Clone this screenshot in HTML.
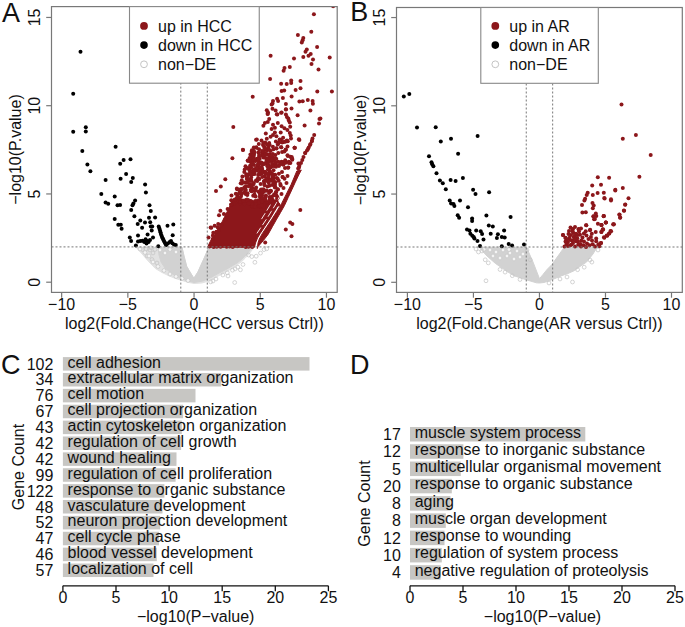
<!DOCTYPE html>
<html><head><meta charset="utf-8"><title>Figure</title>
<style>html,body{margin:0;padding:0;background:#fff;}svg{display:block;}</style></head>
<body><svg width="685" height="627" viewBox="0 0 685 627">
<rect x="0" y="0" width="685" height="627" fill="#fff"/>
<defs><clipPath id="ca"><rect x="51.5" y="6.6" width="285.7" height="285.8"/></clipPath><clipPath id="cb"><rect x="396.5" y="7.5" width="285.8" height="284.9"/></clipPath></defs>
<text transform="translate(1.9,21.9) scale(1,1.05)" font-family="Liberation Sans, sans-serif" font-size="27" fill="#111">A</text>
<g clip-path="url(#ca)">
<path d="M136.0,247.2 L182.0,247.2 L184.0,256.0 L186.7,266.3 L190.0,272.0 L193.9,278.3 L197.9,271.9 L201.5,264.0 L205.1,256.0 L207.5,250.4 L208.0,247.2 L254.0,247.2 L251.0,251.5 L248.3,254.9 L245.0,258.3 L241.3,261.9 L237.0,265.0 L232.5,268.0 L228.0,270.8 L223.8,273.3 L219.0,275.6 L215.0,277.7 L209.9,280.7 L201.9,283.0 L194.0,283.5 L188.0,282.3 L181.0,280.2 L175.0,278.3 L168.8,275.8 L162.0,272.5 L155.5,268.6 L149.0,262.0 L143.0,255.0 L139.0,250.5 Z" fill="#e2e2e2" stroke="#e2e2e2" stroke-width="1.0" stroke-linejoin="round"/>
<path d="M158.0,247.2 L182.0,247.2 L184.0,256.0 L186.7,266.3 L190.0,272.0 L193.9,278.3 L197.9,271.9 L201.5,264.0 L205.1,256.0 L207.5,250.4 L208.0,247.2 L252.0,247.2 L249.0,251.5 L246.0,255.0 L242.0,259.0 L237.0,263.0 L232.0,266.0 L226.0,269.5 L219.0,273.0 L212.0,277.0 L203.0,281.0 L194.0,282.5 L186.0,280.5 L178.0,277.0 L171.0,273.0 L165.0,268.0 L161.0,262.0 L159.0,255.0 Z" fill="#d2d2d2" stroke="#d2d2d2" stroke-width="1.0" stroke-linejoin="round"/>
<circle cx="142.5" cy="249.5" r="1.9" fill="none" stroke="#c6c6c6" stroke-width="0.75"/>
<circle cx="146.0" cy="249.0" r="1.9" fill="none" stroke="#c6c6c6" stroke-width="0.75"/>
<circle cx="150.0" cy="250.0" r="1.9" fill="none" stroke="#c6c6c6" stroke-width="0.75"/>
<circle cx="153.0" cy="253.0" r="1.9" fill="none" stroke="#c6c6c6" stroke-width="0.75"/>
<circle cx="151.0" cy="247.8" r="1.9" fill="none" stroke="#c6c6c6" stroke-width="0.75"/>
<circle cx="155.0" cy="249.5" r="1.9" fill="none" stroke="#c6c6c6" stroke-width="0.75"/>
<circle cx="147.0" cy="256.0" r="1.9" fill="none" stroke="#c6c6c6" stroke-width="0.75"/>
<circle cx="152.0" cy="259.5" r="1.9" fill="none" stroke="#c6c6c6" stroke-width="0.75"/>
<circle cx="157.0" cy="263.0" r="1.9" fill="none" stroke="#c6c6c6" stroke-width="0.75"/>
<circle cx="210.7" cy="281.9" r="1.9" fill="none" stroke="#c6c6c6" stroke-width="0.75"/>
<circle cx="234.7" cy="282.5" r="1.9" fill="none" stroke="#c6c6c6" stroke-width="0.75"/>
<circle cx="254.9" cy="262.3" r="1.9" fill="none" stroke="#c6c6c6" stroke-width="0.75"/>
<circle cx="243.0" cy="264.5" r="1.9" fill="none" stroke="#c6c6c6" stroke-width="0.75"/>
<circle cx="240.4" cy="269.8" r="1.9" fill="none" stroke="#c6c6c6" stroke-width="0.75"/>
<circle cx="237.8" cy="267.2" r="1.9" fill="none" stroke="#c6c6c6" stroke-width="0.75"/>
<circle cx="235.1" cy="268.9" r="1.9" fill="none" stroke="#c6c6c6" stroke-width="0.75"/>
<circle cx="232.5" cy="270.2" r="1.9" fill="none" stroke="#c6c6c6" stroke-width="0.75"/>
<circle cx="227.3" cy="272.8" r="1.9" fill="none" stroke="#c6c6c6" stroke-width="0.75"/>
<circle cx="222.9" cy="275.0" r="1.9" fill="none" stroke="#c6c6c6" stroke-width="0.75"/>
<circle cx="251.8" cy="256.6" r="1.9" fill="none" stroke="#c6c6c6" stroke-width="0.75"/>
<circle cx="256.2" cy="256.2" r="1.9" fill="none" stroke="#c6c6c6" stroke-width="0.75"/>
<circle cx="260.5" cy="253.1" r="1.9" fill="none" stroke="#c6c6c6" stroke-width="0.75"/>
<circle cx="264.0" cy="249.6" r="1.9" fill="none" stroke="#c6c6c6" stroke-width="0.75"/>
<circle cx="266.7" cy="248.8" r="1.9" fill="none" stroke="#c6c6c6" stroke-width="0.75"/>
<circle cx="248.5" cy="255.0" r="1.9" fill="none" stroke="#c6c6c6" stroke-width="0.75"/>
<circle cx="216.0" cy="279.0" r="1.9" fill="none" stroke="#c6c6c6" stroke-width="0.75"/>
<circle cx="213.0" cy="281.0" r="1.9" fill="none" stroke="#c6c6c6" stroke-width="0.75"/>
<circle cx="228.0" cy="276.0" r="1.9" fill="none" stroke="#c6c6c6" stroke-width="0.75"/>
<circle cx="140.0" cy="249.0" r="1.9" fill="#f4f4f4" stroke="#c8c8c8" stroke-width="0.8"/>
<circle cx="145.0" cy="252.5" r="1.9" fill="#f4f4f4" stroke="#c8c8c8" stroke-width="0.8"/>
<circle cx="149.0" cy="256.0" r="1.9" fill="#f4f4f4" stroke="#c8c8c8" stroke-width="0.8"/>
<circle cx="153.0" cy="262.0" r="1.9" fill="#f4f4f4" stroke="#c8c8c8" stroke-width="0.8"/>
<circle cx="158.0" cy="266.5" r="1.9" fill="#f4f4f4" stroke="#c8c8c8" stroke-width="0.8"/>
<circle cx="164.0" cy="270.5" r="1.9" fill="#f4f4f4" stroke="#c8c8c8" stroke-width="0.8"/>
<circle cx="170.0" cy="274.0" r="1.9" fill="#f4f4f4" stroke="#c8c8c8" stroke-width="0.8"/>
<circle cx="176.0" cy="276.5" r="1.9" fill="#f4f4f4" stroke="#c8c8c8" stroke-width="0.8"/>
<circle cx="182.0" cy="278.5" r="1.9" fill="#f4f4f4" stroke="#c8c8c8" stroke-width="0.8"/>
<circle cx="188.0" cy="280.5" r="1.9" fill="#f4f4f4" stroke="#c8c8c8" stroke-width="0.8"/>
<circle cx="160.0" cy="250.0" r="1.9" fill="#f4f4f4" stroke="#c8c8c8" stroke-width="0.8"/>
<circle cx="165.0" cy="253.0" r="1.9" fill="#f4f4f4" stroke="#c8c8c8" stroke-width="0.8"/>
<circle cx="170.0" cy="249.5" r="1.9" fill="#f4f4f4" stroke="#c8c8c8" stroke-width="0.8"/>
<circle cx="176.0" cy="252.0" r="1.9" fill="#f4f4f4" stroke="#c8c8c8" stroke-width="0.8"/>
<path d="M208.0,247.3 L209.0,244.0 L211.0,240.0 L214.0,236.0 L217.0,231.0 L220.0,226.0 L222.0,222.0 L225.0,216.0 L228.0,210.0 L231.0,203.6 L233.0,199.0 L240.0,201.0 L247.0,198.0 L254.0,201.0 L261.0,199.0 L268.0,202.0 L274.0,200.0 L277.5,200.0 L279.0,203.7 L274.4,211.4 L269.8,219.1 L265.0,226.2 L260.2,233.4 L257.5,238.0 L255.5,243.0 L254.5,247.3 Z" fill="#8c171b" stroke="#8c171b" stroke-width="1.0" stroke-linejoin="round"/>
<circle cx="253.5" cy="150.7" r="2" fill="#8c171b"/>
<circle cx="241.6" cy="189.0" r="2" fill="#8c171b"/>
<circle cx="267.7" cy="163.2" r="2" fill="#8c171b"/>
<circle cx="262.8" cy="192.2" r="2" fill="#8c171b"/>
<circle cx="256.0" cy="180.5" r="2" fill="#8c171b"/>
<circle cx="253.4" cy="206.8" r="2" fill="#8c171b"/>
<circle cx="250.9" cy="203.6" r="2" fill="#8c171b"/>
<circle cx="252.5" cy="162.0" r="2" fill="#8c171b"/>
<circle cx="252.5" cy="206.4" r="2" fill="#8c171b"/>
<circle cx="262.5" cy="199.5" r="2" fill="#8c171b"/>
<circle cx="265.9" cy="195.4" r="2" fill="#8c171b"/>
<circle cx="245.8" cy="186.5" r="2" fill="#8c171b"/>
<circle cx="254.3" cy="169.2" r="2" fill="#8c171b"/>
<circle cx="266.9" cy="205.7" r="2" fill="#8c171b"/>
<circle cx="249.8" cy="167.5" r="2" fill="#8c171b"/>
<circle cx="264.1" cy="181.1" r="2" fill="#8c171b"/>
<circle cx="271.9" cy="161.0" r="2" fill="#8c171b"/>
<circle cx="239.7" cy="189.6" r="2" fill="#8c171b"/>
<circle cx="262.6" cy="201.9" r="2" fill="#8c171b"/>
<circle cx="268.4" cy="175.3" r="2" fill="#8c171b"/>
<circle cx="253.5" cy="156.8" r="2" fill="#8c171b"/>
<circle cx="270.6" cy="190.7" r="2" fill="#8c171b"/>
<circle cx="268.3" cy="178.4" r="2" fill="#8c171b"/>
<circle cx="262.9" cy="171.2" r="2" fill="#8c171b"/>
<circle cx="253.1" cy="152.2" r="2" fill="#8c171b"/>
<circle cx="245.5" cy="193.7" r="2" fill="#8c171b"/>
<circle cx="257.2" cy="206.1" r="2" fill="#8c171b"/>
<circle cx="252.1" cy="171.4" r="2" fill="#8c171b"/>
<circle cx="262.0" cy="152.8" r="2" fill="#8c171b"/>
<circle cx="269.1" cy="161.0" r="2" fill="#8c171b"/>
<circle cx="270.8" cy="179.9" r="2" fill="#8c171b"/>
<circle cx="265.7" cy="179.9" r="2" fill="#8c171b"/>
<circle cx="254.7" cy="190.9" r="2" fill="#8c171b"/>
<circle cx="264.7" cy="203.7" r="2" fill="#8c171b"/>
<circle cx="269.5" cy="159.5" r="2" fill="#8c171b"/>
<circle cx="246.7" cy="174.2" r="2" fill="#8c171b"/>
<circle cx="248.5" cy="180.9" r="2" fill="#8c171b"/>
<circle cx="269.7" cy="191.9" r="2" fill="#8c171b"/>
<circle cx="272.1" cy="185.0" r="2" fill="#8c171b"/>
<circle cx="269.1" cy="161.5" r="2" fill="#8c171b"/>
<circle cx="269.5" cy="172.9" r="2" fill="#8c171b"/>
<circle cx="252.6" cy="161.3" r="2" fill="#8c171b"/>
<circle cx="250.8" cy="189.8" r="2" fill="#8c171b"/>
<circle cx="250.5" cy="165.8" r="2" fill="#8c171b"/>
<circle cx="251.2" cy="177.5" r="2" fill="#8c171b"/>
<circle cx="251.9" cy="150.3" r="2" fill="#8c171b"/>
<circle cx="247.5" cy="193.2" r="2" fill="#8c171b"/>
<circle cx="253.9" cy="183.0" r="2" fill="#8c171b"/>
<circle cx="251.3" cy="180.8" r="2" fill="#8c171b"/>
<circle cx="246.0" cy="182.7" r="2" fill="#8c171b"/>
<circle cx="273.7" cy="180.9" r="2" fill="#8c171b"/>
<circle cx="270.7" cy="179.6" r="2" fill="#8c171b"/>
<circle cx="264.9" cy="172.1" r="2" fill="#8c171b"/>
<circle cx="266.3" cy="163.8" r="2" fill="#8c171b"/>
<circle cx="264.5" cy="204.4" r="2" fill="#8c171b"/>
<circle cx="263.9" cy="206.0" r="2" fill="#8c171b"/>
<circle cx="249.6" cy="158.0" r="2" fill="#8c171b"/>
<circle cx="258.3" cy="152.6" r="2" fill="#8c171b"/>
<circle cx="246.4" cy="175.1" r="2" fill="#8c171b"/>
<circle cx="253.2" cy="195.8" r="2" fill="#8c171b"/>
<circle cx="265.8" cy="197.1" r="2" fill="#8c171b"/>
<circle cx="256.3" cy="168.4" r="2" fill="#8c171b"/>
<circle cx="264.4" cy="203.8" r="2" fill="#8c171b"/>
<circle cx="263.9" cy="152.2" r="2" fill="#8c171b"/>
<circle cx="269.4" cy="172.9" r="2" fill="#8c171b"/>
<circle cx="266.8" cy="201.9" r="2" fill="#8c171b"/>
<circle cx="246.1" cy="175.9" r="2" fill="#8c171b"/>
<circle cx="272.5" cy="199.7" r="2" fill="#8c171b"/>
<circle cx="250.2" cy="171.7" r="2" fill="#8c171b"/>
<circle cx="251.7" cy="204.7" r="2" fill="#8c171b"/>
<circle cx="258.3" cy="165.5" r="2" fill="#8c171b"/>
<circle cx="249.5" cy="169.5" r="2" fill="#8c171b"/>
<circle cx="272.2" cy="164.8" r="2" fill="#8c171b"/>
<circle cx="239.4" cy="193.0" r="2" fill="#8c171b"/>
<circle cx="268.5" cy="165.2" r="2" fill="#8c171b"/>
<circle cx="257.3" cy="180.9" r="2" fill="#8c171b"/>
<circle cx="255.5" cy="189.4" r="2" fill="#8c171b"/>
<circle cx="250.2" cy="184.3" r="2" fill="#8c171b"/>
<circle cx="267.7" cy="181.3" r="2" fill="#8c171b"/>
<circle cx="260.6" cy="190.3" r="2" fill="#8c171b"/>
<circle cx="257.9" cy="200.4" r="2" fill="#8c171b"/>
<circle cx="245.9" cy="193.7" r="2" fill="#8c171b"/>
<circle cx="260.0" cy="194.9" r="2" fill="#8c171b"/>
<circle cx="277.1" cy="198.8" r="2" fill="#8c171b"/>
<circle cx="262.4" cy="154.3" r="2" fill="#8c171b"/>
<circle cx="259.1" cy="205.3" r="2" fill="#8c171b"/>
<circle cx="272.1" cy="196.6" r="2" fill="#8c171b"/>
<circle cx="247.6" cy="175.8" r="2" fill="#8c171b"/>
<circle cx="269.4" cy="157.6" r="2" fill="#8c171b"/>
<circle cx="259.6" cy="169.2" r="2" fill="#8c171b"/>
<circle cx="237.4" cy="194.8" r="2" fill="#8c171b"/>
<circle cx="248.6" cy="186.3" r="2" fill="#8c171b"/>
<circle cx="249.2" cy="169.8" r="2" fill="#8c171b"/>
<circle cx="252.1" cy="173.6" r="2" fill="#8c171b"/>
<circle cx="269.8" cy="167.0" r="2" fill="#8c171b"/>
<circle cx="259.4" cy="173.0" r="2" fill="#8c171b"/>
<circle cx="252.4" cy="152.1" r="2" fill="#8c171b"/>
<circle cx="264.9" cy="205.5" r="2" fill="#8c171b"/>
<circle cx="247.4" cy="201.3" r="2" fill="#8c171b"/>
<circle cx="260.5" cy="199.6" r="2" fill="#8c171b"/>
<circle cx="256.5" cy="170.5" r="2" fill="#8c171b"/>
<circle cx="240.2" cy="200.3" r="2" fill="#8c171b"/>
<circle cx="244.7" cy="182.4" r="2" fill="#8c171b"/>
<circle cx="256.1" cy="187.6" r="2" fill="#8c171b"/>
<circle cx="259.6" cy="159.1" r="2" fill="#8c171b"/>
<circle cx="264.5" cy="163.3" r="2" fill="#8c171b"/>
<circle cx="278.3" cy="204.4" r="2" fill="#8c171b"/>
<circle cx="250.9" cy="190.8" r="2" fill="#8c171b"/>
<circle cx="275.3" cy="182.3" r="2" fill="#8c171b"/>
<circle cx="254.2" cy="204.2" r="2" fill="#8c171b"/>
<circle cx="260.6" cy="183.9" r="2" fill="#8c171b"/>
<circle cx="254.4" cy="194.3" r="2" fill="#8c171b"/>
<circle cx="235.8" cy="193.7" r="2" fill="#8c171b"/>
<circle cx="274.3" cy="166.1" r="2" fill="#8c171b"/>
<circle cx="246.8" cy="175.8" r="2" fill="#8c171b"/>
<circle cx="264.1" cy="157.3" r="2" fill="#8c171b"/>
<circle cx="261.2" cy="189.6" r="2" fill="#8c171b"/>
<circle cx="250.9" cy="201.3" r="2" fill="#8c171b"/>
<circle cx="264.5" cy="176.6" r="2" fill="#8c171b"/>
<circle cx="239.8" cy="203.2" r="2" fill="#8c171b"/>
<circle cx="260.7" cy="204.1" r="2" fill="#8c171b"/>
<circle cx="238.0" cy="200.2" r="2" fill="#8c171b"/>
<circle cx="263.4" cy="153.9" r="2" fill="#8c171b"/>
<circle cx="258.0" cy="167.4" r="2" fill="#8c171b"/>
<circle cx="266.7" cy="190.4" r="2" fill="#8c171b"/>
<circle cx="234.9" cy="199.5" r="2" fill="#8c171b"/>
<circle cx="250.9" cy="158.7" r="2" fill="#8c171b"/>
<circle cx="251.5" cy="155.0" r="2" fill="#8c171b"/>
<circle cx="270.0" cy="171.5" r="2" fill="#8c171b"/>
<circle cx="252.7" cy="206.8" r="2" fill="#8c171b"/>
<circle cx="275.2" cy="174.7" r="2" fill="#8c171b"/>
<circle cx="242.9" cy="200.4" r="2" fill="#8c171b"/>
<circle cx="245.1" cy="189.1" r="2" fill="#8c171b"/>
<circle cx="269.7" cy="197.0" r="2" fill="#8c171b"/>
<circle cx="277.8" cy="197.2" r="2" fill="#8c171b"/>
<circle cx="252.1" cy="164.2" r="2" fill="#8c171b"/>
<circle cx="258.9" cy="202.4" r="2" fill="#8c171b"/>
<circle cx="264.3" cy="199.7" r="2" fill="#8c171b"/>
<circle cx="241.8" cy="183.4" r="2" fill="#8c171b"/>
<circle cx="268.9" cy="169.6" r="2" fill="#8c171b"/>
<circle cx="253.2" cy="184.4" r="2" fill="#8c171b"/>
<circle cx="244.3" cy="171.9" r="2" fill="#8c171b"/>
<circle cx="270.4" cy="201.8" r="2" fill="#8c171b"/>
<circle cx="266.7" cy="178.4" r="2" fill="#8c171b"/>
<circle cx="262.2" cy="170.3" r="2" fill="#8c171b"/>
<circle cx="232.9" cy="201.8" r="2" fill="#8c171b"/>
<circle cx="252.3" cy="188.1" r="2" fill="#8c171b"/>
<circle cx="265.3" cy="199.5" r="2" fill="#8c171b"/>
<circle cx="247.0" cy="168.1" r="2" fill="#8c171b"/>
<circle cx="252.6" cy="174.2" r="2" fill="#8c171b"/>
<circle cx="269.8" cy="200.5" r="2" fill="#8c171b"/>
<circle cx="271.0" cy="190.9" r="2" fill="#8c171b"/>
<circle cx="268.0" cy="169.2" r="2" fill="#8c171b"/>
<circle cx="252.4" cy="203.9" r="2" fill="#8c171b"/>
<circle cx="269.3" cy="185.8" r="2" fill="#8c171b"/>
<circle cx="258.8" cy="162.1" r="2" fill="#8c171b"/>
<circle cx="266.6" cy="154.1" r="2" fill="#8c171b"/>
<circle cx="249.5" cy="202.5" r="2" fill="#8c171b"/>
<circle cx="251.6" cy="191.2" r="2" fill="#8c171b"/>
<circle cx="257.0" cy="167.5" r="2" fill="#8c171b"/>
<circle cx="262.2" cy="177.0" r="2" fill="#8c171b"/>
<circle cx="238.2" cy="197.6" r="2" fill="#8c171b"/>
<circle cx="244.6" cy="192.4" r="2" fill="#8c171b"/>
<circle cx="249.3" cy="161.0" r="2" fill="#8c171b"/>
<circle cx="259.3" cy="206.7" r="2" fill="#8c171b"/>
<circle cx="272.7" cy="159.7" r="2" fill="#8c171b"/>
<circle cx="272.2" cy="163.6" r="2" fill="#8c171b"/>
<circle cx="259.7" cy="206.1" r="2" fill="#8c171b"/>
<circle cx="259.3" cy="172.9" r="2" fill="#8c171b"/>
<circle cx="251.3" cy="186.6" r="2" fill="#8c171b"/>
<circle cx="245.5" cy="166.3" r="2" fill="#8c171b"/>
<circle cx="267.4" cy="186.5" r="2" fill="#8c171b"/>
<circle cx="258.5" cy="191.7" r="2" fill="#8c171b"/>
<circle cx="264.0" cy="181.4" r="2" fill="#8c171b"/>
<circle cx="266.6" cy="160.4" r="2" fill="#8c171b"/>
<circle cx="252.3" cy="156.0" r="2" fill="#8c171b"/>
<circle cx="267.9" cy="160.8" r="2" fill="#8c171b"/>
<circle cx="247.3" cy="194.9" r="2" fill="#8c171b"/>
<circle cx="250.5" cy="170.9" r="2" fill="#8c171b"/>
<circle cx="262.6" cy="193.1" r="2" fill="#8c171b"/>
<circle cx="244.4" cy="204.3" r="2" fill="#8c171b"/>
<circle cx="255.3" cy="200.9" r="2" fill="#8c171b"/>
<circle cx="241.8" cy="180.3" r="2" fill="#8c171b"/>
<circle cx="254.0" cy="153.8" r="2" fill="#8c171b"/>
<circle cx="268.8" cy="182.7" r="2" fill="#8c171b"/>
<circle cx="239.6" cy="192.4" r="2" fill="#8c171b"/>
<circle cx="235.1" cy="199.9" r="2" fill="#8c171b"/>
<circle cx="240.3" cy="202.1" r="2" fill="#8c171b"/>
<circle cx="254.1" cy="164.9" r="2" fill="#8c171b"/>
<circle cx="260.1" cy="193.5" r="2" fill="#8c171b"/>
<circle cx="263.3" cy="157.6" r="2" fill="#8c171b"/>
<circle cx="266.9" cy="150.6" r="2" fill="#8c171b"/>
<circle cx="259.8" cy="169.9" r="2" fill="#8c171b"/>
<circle cx="270.9" cy="167.3" r="2" fill="#8c171b"/>
<circle cx="275.1" cy="205.0" r="2" fill="#8c171b"/>
<circle cx="265.1" cy="173.2" r="2" fill="#8c171b"/>
<circle cx="240.7" cy="183.2" r="2" fill="#8c171b"/>
<circle cx="262.1" cy="195.8" r="2" fill="#8c171b"/>
<circle cx="262.4" cy="204.9" r="2" fill="#8c171b"/>
<circle cx="246.8" cy="178.9" r="2" fill="#8c171b"/>
<circle cx="258.6" cy="205.8" r="2" fill="#8c171b"/>
<circle cx="269.3" cy="200.6" r="2" fill="#8c171b"/>
<circle cx="259.9" cy="173.5" r="2" fill="#8c171b"/>
<circle cx="261.0" cy="193.6" r="2" fill="#8c171b"/>
<circle cx="253.0" cy="157.7" r="2" fill="#8c171b"/>
<circle cx="249.3" cy="179.5" r="2" fill="#8c171b"/>
<circle cx="272.3" cy="180.9" r="2" fill="#8c171b"/>
<circle cx="260.6" cy="199.0" r="2" fill="#8c171b"/>
<circle cx="248.8" cy="203.5" r="2" fill="#8c171b"/>
<circle cx="274.1" cy="183.5" r="2" fill="#8c171b"/>
<circle cx="251.2" cy="180.8" r="2" fill="#8c171b"/>
<circle cx="272.5" cy="201.9" r="2" fill="#8c171b"/>
<circle cx="269.5" cy="154.2" r="2" fill="#8c171b"/>
<circle cx="259.9" cy="197.1" r="2" fill="#8c171b"/>
<circle cx="245.3" cy="190.3" r="2" fill="#8c171b"/>
<circle cx="265.8" cy="171.9" r="2" fill="#8c171b"/>
<circle cx="260.1" cy="206.5" r="2" fill="#8c171b"/>
<circle cx="259.1" cy="156.8" r="2" fill="#8c171b"/>
<circle cx="237.1" cy="189.2" r="2" fill="#8c171b"/>
<circle cx="265.9" cy="157.9" r="2" fill="#8c171b"/>
<circle cx="264.2" cy="183.7" r="2" fill="#8c171b"/>
<circle cx="274.8" cy="184.6" r="2" fill="#8c171b"/>
<circle cx="260.5" cy="173.3" r="2" fill="#8c171b"/>
<circle cx="254.8" cy="206.8" r="2" fill="#8c171b"/>
<circle cx="266.6" cy="206.4" r="2" fill="#8c171b"/>
<circle cx="254.6" cy="174.0" r="2" fill="#8c171b"/>
<circle cx="262.0" cy="168.5" r="2" fill="#8c171b"/>
<circle cx="231.2" cy="204.6" r="2" fill="#8c171b"/>
<circle cx="265.5" cy="190.7" r="2" fill="#8c171b"/>
<circle cx="245.7" cy="189.8" r="2" fill="#8c171b"/>
<circle cx="247.6" cy="182.8" r="2" fill="#8c171b"/>
<circle cx="254.0" cy="172.2" r="2" fill="#8c171b"/>
<circle cx="242.4" cy="176.4" r="2" fill="#8c171b"/>
<circle cx="274.8" cy="185.1" r="2" fill="#8c171b"/>
<circle cx="250.8" cy="161.7" r="2" fill="#8c171b"/>
<circle cx="253.7" cy="170.1" r="2" fill="#8c171b"/>
<circle cx="255.8" cy="204.1" r="2" fill="#8c171b"/>
<circle cx="261.5" cy="167.5" r="2" fill="#8c171b"/>
<circle cx="270.0" cy="191.0" r="2" fill="#8c171b"/>
<circle cx="258.0" cy="178.2" r="2" fill="#8c171b"/>
<circle cx="276.4" cy="195.6" r="2" fill="#8c171b"/>
<circle cx="259.3" cy="206.3" r="2" fill="#8c171b"/>
<circle cx="271.1" cy="173.4" r="2" fill="#8c171b"/>
<circle cx="240.0" cy="199.6" r="2" fill="#8c171b"/>
<circle cx="252.3" cy="174.6" r="2" fill="#8c171b"/>
<circle cx="263.4" cy="152.6" r="2" fill="#8c171b"/>
<circle cx="244.4" cy="187.2" r="2" fill="#8c171b"/>
<circle cx="262.7" cy="198.3" r="2" fill="#8c171b"/>
<circle cx="250.4" cy="174.5" r="2" fill="#8c171b"/>
<circle cx="269.7" cy="204.1" r="2" fill="#8c171b"/>
<circle cx="250.4" cy="154.5" r="2" fill="#8c171b"/>
<circle cx="262.8" cy="155.7" r="2" fill="#8c171b"/>
<circle cx="241.5" cy="194.3" r="2" fill="#8c171b"/>
<circle cx="249.9" cy="173.5" r="2" fill="#8c171b"/>
<circle cx="255.1" cy="160.9" r="2" fill="#8c171b"/>
<circle cx="247.5" cy="178.8" r="2" fill="#8c171b"/>
<circle cx="268.9" cy="158.6" r="2" fill="#8c171b"/>
<circle cx="273.0" cy="166.1" r="2" fill="#8c171b"/>
<circle cx="244.7" cy="169.5" r="2" fill="#8c171b"/>
<circle cx="236.9" cy="197.7" r="2" fill="#8c171b"/>
<circle cx="267.0" cy="159.3" r="2" fill="#8c171b"/>
<circle cx="236.9" cy="188.5" r="2" fill="#8c171b"/>
<circle cx="251.2" cy="167.6" r="2" fill="#8c171b"/>
<circle cx="262.0" cy="201.3" r="2" fill="#8c171b"/>
<circle cx="240.0" cy="202.1" r="2" fill="#8c171b"/>
<circle cx="260.1" cy="206.0" r="2" fill="#8c171b"/>
<circle cx="264.6" cy="185.2" r="2" fill="#8c171b"/>
<circle cx="263.4" cy="189.3" r="2" fill="#8c171b"/>
<circle cx="255.9" cy="160.7" r="2" fill="#8c171b"/>
<circle cx="241.4" cy="189.2" r="2" fill="#8c171b"/>
<circle cx="272.9" cy="176.9" r="2" fill="#8c171b"/>
<circle cx="241.1" cy="192.6" r="2" fill="#8c171b"/>
<circle cx="270.1" cy="198.6" r="2" fill="#8c171b"/>
<circle cx="267.6" cy="174.0" r="2" fill="#8c171b"/>
<circle cx="263.6" cy="206.8" r="2" fill="#8c171b"/>
<circle cx="240.9" cy="196.6" r="2" fill="#8c171b"/>
<circle cx="255.6" cy="196.5" r="2" fill="#8c171b"/>
<circle cx="271.6" cy="200.5" r="2" fill="#8c171b"/>
<circle cx="277.7" cy="197.7" r="2" fill="#8c171b"/>
<circle cx="261.4" cy="162.6" r="2" fill="#8c171b"/>
<circle cx="267.4" cy="166.2" r="2" fill="#8c171b"/>
<circle cx="272.1" cy="159.7" r="2" fill="#8c171b"/>
<circle cx="258.2" cy="175.1" r="2" fill="#8c171b"/>
<circle cx="263.8" cy="190.9" r="2" fill="#8c171b"/>
<circle cx="252.4" cy="154.7" r="2" fill="#8c171b"/>
<circle cx="255.4" cy="190.2" r="2" fill="#8c171b"/>
<circle cx="273.5" cy="178.6" r="2" fill="#8c171b"/>
<circle cx="261.8" cy="191.7" r="2" fill="#8c171b"/>
<circle cx="251.8" cy="151.4" r="2" fill="#8c171b"/>
<circle cx="269.0" cy="192.9" r="2" fill="#8c171b"/>
<circle cx="261.7" cy="173.7" r="2" fill="#8c171b"/>
<circle cx="250.3" cy="165.5" r="2" fill="#8c171b"/>
<circle cx="234.3" cy="204.1" r="2" fill="#8c171b"/>
<circle cx="275.4" cy="187.2" r="2" fill="#8c171b"/>
<circle cx="256.6" cy="167.9" r="2" fill="#8c171b"/>
<circle cx="250.7" cy="161.5" r="2" fill="#8c171b"/>
<circle cx="261.8" cy="205.5" r="2" fill="#8c171b"/>
<circle cx="259.9" cy="174.2" r="2" fill="#8c171b"/>
<circle cx="268.4" cy="176.5" r="2" fill="#8c171b"/>
<circle cx="259.4" cy="179.0" r="2" fill="#8c171b"/>
<path d="M301.3,170.0 L298.7,175.0 L295.3,182.2 L292.0,189.4 L288.2,197.5 L284.4,205.7 L280.6,212.4 L276.7,219.1 L272.4,226.7 L268.1,234.4 L263.3,240.6 L258.2,246.4 L257.3,248.5 L257.4,248.5 L258.0,243.0 L259.3,239.0 L262.4,233.4 L267.2,226.2 L272.0,219.1 L276.8,211.4 L281.5,203.7 L286.3,194.2 L291.1,184.6 L294.3,177.0 L296.8,171.0 Z" fill="#8c171b" stroke="#8c171b" stroke-width="1.0" stroke-linejoin="round"/>
<path d="M256.9,233.4 L261.7,226.2 L266.5,219.1 L271.3,211.4 L276.0,203.7 L280.8,194.2" fill="none" stroke="#fff" stroke-width="0.9" stroke-dasharray="7,3"/>
<path d="M261.5,219.1 L266.3,211.4 L271.0,203.7" fill="none" stroke="#fff" stroke-width="0.9" stroke-dasharray="7,3"/>
<circle cx="313.9" cy="14.2" r="2.0" fill="#8c171b"/>
<circle cx="311.3" cy="31.8" r="2.0" fill="#8c171b"/>
<circle cx="297.9" cy="34.9" r="2.0" fill="#8c171b"/>
<circle cx="303.3" cy="37.9" r="2.0" fill="#8c171b"/>
<circle cx="302.6" cy="40.2" r="2.0" fill="#8c171b"/>
<circle cx="301.8" cy="42.4" r="2.0" fill="#8c171b"/>
<circle cx="317.1" cy="46.9" r="2.0" fill="#8c171b"/>
<circle cx="306.8" cy="49.4" r="2.0" fill="#8c171b"/>
<circle cx="305.5" cy="51.7" r="2.0" fill="#8c171b"/>
<circle cx="310.7" cy="53.9" r="2.0" fill="#8c171b"/>
<circle cx="308.5" cy="55.8" r="2.0" fill="#8c171b"/>
<circle cx="303.3" cy="56.9" r="2.0" fill="#8c171b"/>
<circle cx="294.0" cy="58.6" r="2.0" fill="#8c171b"/>
<circle cx="313.0" cy="59.5" r="2.0" fill="#8c171b"/>
<circle cx="311.5" cy="64.0" r="2.0" fill="#8c171b"/>
<circle cx="329.7" cy="57.5" r="2.0" fill="#8c171b"/>
<circle cx="270.6" cy="55.8" r="2.0" fill="#8c171b"/>
<circle cx="289.8" cy="66.9" r="2.0" fill="#8c171b"/>
<circle cx="284.5" cy="68.1" r="2.0" fill="#8c171b"/>
<circle cx="283.6" cy="70.8" r="2.0" fill="#8c171b"/>
<circle cx="318.5" cy="69.6" r="2.0" fill="#8c171b"/>
<circle cx="270.1" cy="79.1" r="2.0" fill="#8c171b"/>
<circle cx="281.1" cy="83.7" r="2.0" fill="#8c171b"/>
<circle cx="286.7" cy="83.9" r="2.0" fill="#8c171b"/>
<circle cx="291.2" cy="80.6" r="2.0" fill="#8c171b"/>
<circle cx="291.2" cy="83.0" r="2.0" fill="#8c171b"/>
<circle cx="300.5" cy="81.0" r="2.0" fill="#8c171b"/>
<circle cx="281.6" cy="91.1" r="2.0" fill="#8c171b"/>
<circle cx="284.2" cy="90.4" r="2.0" fill="#8c171b"/>
<circle cx="295.6" cy="89.9" r="2.0" fill="#8c171b"/>
<circle cx="300.5" cy="88.3" r="2.0" fill="#8c171b"/>
<circle cx="317.3" cy="91.6" r="2.0" fill="#8c171b"/>
<circle cx="331.9" cy="91.6" r="2.0" fill="#8c171b"/>
<circle cx="252.7" cy="96.7" r="2.0" fill="#8c171b"/>
<circle cx="291.6" cy="96.6" r="2.0" fill="#8c171b"/>
<circle cx="282.9" cy="98.1" r="2.0" fill="#8c171b"/>
<circle cx="277.1" cy="98.8" r="2.0" fill="#8c171b"/>
<circle cx="278.1" cy="101.1" r="2.0" fill="#8c171b"/>
<circle cx="273.0" cy="101.0" r="2.0" fill="#8c171b"/>
<circle cx="272.5" cy="103.5" r="2.0" fill="#8c171b"/>
<circle cx="271.6" cy="104.5" r="2.0" fill="#8c171b"/>
<circle cx="285.9" cy="104.0" r="2.0" fill="#8c171b"/>
<circle cx="299.4" cy="101.6" r="2.0" fill="#8c171b"/>
<circle cx="302.7" cy="101.3" r="2.0" fill="#8c171b"/>
<circle cx="307.8" cy="100.0" r="2.0" fill="#8c171b"/>
<circle cx="312.6" cy="101.1" r="2.0" fill="#8c171b"/>
<circle cx="312.9" cy="103.8" r="2.0" fill="#8c171b"/>
<circle cx="266.8" cy="110.2" r="2.0" fill="#8c171b"/>
<circle cx="267.9" cy="112.2" r="2.0" fill="#8c171b"/>
<circle cx="267.6" cy="114.1" r="2.0" fill="#8c171b"/>
<circle cx="272.5" cy="108.8" r="2.0" fill="#8c171b"/>
<circle cx="275.6" cy="110.5" r="2.0" fill="#8c171b"/>
<circle cx="277.3" cy="114.5" r="2.0" fill="#8c171b"/>
<circle cx="281.6" cy="112.6" r="2.0" fill="#8c171b"/>
<circle cx="285.9" cy="109.6" r="2.0" fill="#8c171b"/>
<circle cx="291.5" cy="108.6" r="2.0" fill="#8c171b"/>
<circle cx="285.9" cy="114.5" r="2.0" fill="#8c171b"/>
<circle cx="286.9" cy="116.9" r="2.0" fill="#8c171b"/>
<circle cx="288.3" cy="118.4" r="2.0" fill="#8c171b"/>
<circle cx="297.6" cy="115.3" r="2.0" fill="#8c171b"/>
<circle cx="269.2" cy="118.9" r="2.0" fill="#8c171b"/>
<circle cx="310.4" cy="110.5" r="2.0" fill="#8c171b"/>
<circle cx="320.4" cy="118.4" r="2.0" fill="#8c171b"/>
<circle cx="286.0" cy="109.3" r="2.0" fill="#8c171b"/>
<circle cx="267.8" cy="113.8" r="2.0" fill="#8c171b"/>
<circle cx="276.8" cy="114.3" r="2.0" fill="#8c171b"/>
<circle cx="281.1" cy="112.7" r="2.0" fill="#8c171b"/>
<circle cx="288.8" cy="120.5" r="2.0" fill="#8c171b"/>
<circle cx="289.8" cy="122.4" r="2.0" fill="#8c171b"/>
<circle cx="267.8" cy="122.0" r="2.0" fill="#8c171b"/>
<circle cx="264.9" cy="122.9" r="2.0" fill="#8c171b"/>
<circle cx="263.4" cy="125.8" r="2.0" fill="#8c171b"/>
<circle cx="277.8" cy="122.9" r="2.0" fill="#8c171b"/>
<circle cx="273.0" cy="124.8" r="2.0" fill="#8c171b"/>
<circle cx="274.9" cy="127.7" r="2.0" fill="#8c171b"/>
<circle cx="271.6" cy="129.1" r="2.0" fill="#8c171b"/>
<circle cx="281.6" cy="126.3" r="2.0" fill="#8c171b"/>
<circle cx="284.5" cy="128.2" r="2.0" fill="#8c171b"/>
<circle cx="287.4" cy="130.1" r="2.0" fill="#8c171b"/>
<circle cx="290.2" cy="126.7" r="2.0" fill="#8c171b"/>
<circle cx="289.8" cy="133.0" r="2.0" fill="#8c171b"/>
<circle cx="290.7" cy="135.4" r="2.0" fill="#8c171b"/>
<circle cx="280.7" cy="132.5" r="2.0" fill="#8c171b"/>
<circle cx="274.9" cy="132.5" r="2.0" fill="#8c171b"/>
<circle cx="265.8" cy="133.4" r="2.0" fill="#8c171b"/>
<circle cx="273.0" cy="134.9" r="2.0" fill="#8c171b"/>
<circle cx="270.6" cy="136.8" r="2.0" fill="#8c171b"/>
<circle cx="276.4" cy="136.3" r="2.0" fill="#8c171b"/>
<circle cx="266.8" cy="138.7" r="2.0" fill="#8c171b"/>
<circle cx="261.5" cy="140.6" r="2.0" fill="#8c171b"/>
<circle cx="283.1" cy="137.8" r="2.0" fill="#8c171b"/>
<circle cx="281.1" cy="139.7" r="2.0" fill="#8c171b"/>
<circle cx="279.2" cy="142.5" r="2.0" fill="#8c171b"/>
<circle cx="277.8" cy="144.4" r="2.0" fill="#8c171b"/>
<circle cx="286.9" cy="140.6" r="2.0" fill="#8c171b"/>
<circle cx="298.9" cy="139.2" r="2.0" fill="#8c171b"/>
<circle cx="269.2" cy="143.0" r="2.0" fill="#8c171b"/>
<circle cx="263.0" cy="144.9" r="2.0" fill="#8c171b"/>
<circle cx="242.9" cy="149.7" r="2.0" fill="#8c171b"/>
<circle cx="256.3" cy="147.3" r="2.0" fill="#8c171b"/>
<circle cx="259.1" cy="149.2" r="2.0" fill="#8c171b"/>
<circle cx="262.0" cy="151.1" r="2.0" fill="#8c171b"/>
<circle cx="265.4" cy="149.2" r="2.0" fill="#8c171b"/>
<circle cx="268.2" cy="147.3" r="2.0" fill="#8c171b"/>
<circle cx="270.6" cy="151.1" r="2.0" fill="#8c171b"/>
<circle cx="273.5" cy="149.2" r="2.0" fill="#8c171b"/>
<circle cx="276.4" cy="148.3" r="2.0" fill="#8c171b"/>
<circle cx="281.1" cy="147.3" r="2.0" fill="#8c171b"/>
<circle cx="285.9" cy="149.7" r="2.0" fill="#8c171b"/>
<circle cx="294.5" cy="147.8" r="2.0" fill="#8c171b"/>
<circle cx="254.4" cy="152.1" r="2.0" fill="#8c171b"/>
<circle cx="253.9" cy="155.0" r="2.0" fill="#8c171b"/>
<circle cx="247.7" cy="160.7" r="2.0" fill="#8c171b"/>
<circle cx="253.4" cy="159.8" r="2.0" fill="#8c171b"/>
<circle cx="257.2" cy="158.8" r="2.0" fill="#8c171b"/>
<circle cx="259.1" cy="155.0" r="2.0" fill="#8c171b"/>
<circle cx="263.9" cy="153.5" r="2.0" fill="#8c171b"/>
<circle cx="268.7" cy="155.0" r="2.0" fill="#8c171b"/>
<circle cx="271.6" cy="156.9" r="2.0" fill="#8c171b"/>
<circle cx="275.4" cy="155.0" r="2.0" fill="#8c171b"/>
<circle cx="278.3" cy="153.1" r="2.0" fill="#8c171b"/>
<circle cx="282.1" cy="152.1" r="2.0" fill="#8c171b"/>
<circle cx="287.8" cy="155.9" r="2.0" fill="#8c171b"/>
<circle cx="291.7" cy="156.9" r="2.0" fill="#8c171b"/>
<circle cx="292.2" cy="159.8" r="2.0" fill="#8c171b"/>
<circle cx="288.8" cy="161.7" r="2.0" fill="#8c171b"/>
<circle cx="288.3" cy="167.4" r="2.0" fill="#8c171b"/>
<circle cx="298.4" cy="163.6" r="2.0" fill="#8c171b"/>
<circle cx="298.9" cy="167.4" r="2.0" fill="#8c171b"/>
<circle cx="319.5" cy="119.0" r="2.0" fill="#8c171b"/>
<circle cx="319.0" cy="123.5" r="2.0" fill="#8c171b"/>
<circle cx="304.6" cy="125.4" r="2.0" fill="#8c171b"/>
<circle cx="314.2" cy="135.0" r="2.0" fill="#8c171b"/>
<circle cx="312.5" cy="138.5" r="2.0" fill="#8c171b"/>
<circle cx="311.9" cy="141.0" r="2.0" fill="#8c171b"/>
<circle cx="310.0" cy="145.0" r="2.0" fill="#8c171b"/>
<circle cx="308.0" cy="149.0" r="2.0" fill="#8c171b"/>
<circle cx="305.2" cy="152.9" r="2.0" fill="#8c171b"/>
<circle cx="294.7" cy="147.7" r="2.0" fill="#8c171b"/>
<circle cx="287.0" cy="141.0" r="2.0" fill="#8c171b"/>
<circle cx="299.4" cy="140.0" r="2.0" fill="#8c171b"/>
<circle cx="287.5" cy="155.3" r="2.0" fill="#8c171b"/>
<circle cx="290.4" cy="156.7" r="2.0" fill="#8c171b"/>
<circle cx="292.3" cy="159.1" r="2.0" fill="#8c171b"/>
<circle cx="290.4" cy="163.0" r="2.0" fill="#8c171b"/>
<circle cx="285.6" cy="149.6" r="2.0" fill="#8c171b"/>
<circle cx="281.3" cy="147.2" r="2.0" fill="#8c171b"/>
<circle cx="276.5" cy="148.6" r="2.0" fill="#8c171b"/>
<circle cx="278.4" cy="142.9" r="2.0" fill="#8c171b"/>
<circle cx="243.0" cy="150.0" r="2.0" fill="#8c171b"/>
<circle cx="232.4" cy="158.2" r="2.0" fill="#8c171b"/>
<circle cx="247.8" cy="160.6" r="2.0" fill="#8c171b"/>
<circle cx="225.3" cy="179.2" r="2.0" fill="#8c171b"/>
<circle cx="220.8" cy="186.4" r="2.0" fill="#8c171b"/>
<circle cx="216.0" cy="191.1" r="2.0" fill="#8c171b"/>
<circle cx="231.5" cy="195.5" r="2.0" fill="#8c171b"/>
<circle cx="256.4" cy="147.7" r="2.0" fill="#8c171b"/>
<circle cx="231.3" cy="200.3" r="2.0" fill="#8c171b"/>
<circle cx="231.3" cy="204.6" r="2.0" fill="#8c171b"/>
<circle cx="227.6" cy="209.0" r="2.0" fill="#8c171b"/>
<circle cx="214.6" cy="225.7" r="2.0" fill="#8c171b"/>
<circle cx="218.2" cy="224.0" r="2.0" fill="#8c171b"/>
<circle cx="221.7" cy="224.5" r="2.0" fill="#8c171b"/>
<circle cx="216.4" cy="231.8" r="2.0" fill="#8c171b"/>
<circle cx="219.0" cy="230.0" r="2.0" fill="#8c171b"/>
<circle cx="208.5" cy="237.5" r="2.0" fill="#8c171b"/>
<circle cx="212.9" cy="235.4" r="2.0" fill="#8c171b"/>
<circle cx="220.4" cy="210.8" r="2.0" fill="#8c171b"/>
<circle cx="219.0" cy="215.2" r="2.0" fill="#8c171b"/>
<circle cx="223.9" cy="213.9" r="2.0" fill="#8c171b"/>
<circle cx="226.9" cy="214.7" r="2.0" fill="#8c171b"/>
<circle cx="225.2" cy="219.6" r="2.0" fill="#8c171b"/>
<circle cx="265.2" cy="242.4" r="2.0" fill="#8c171b"/>
<circle cx="285.8" cy="229.6" r="2.0" fill="#8c171b"/>
<circle cx="290.2" cy="222.6" r="2.0" fill="#8c171b"/>
<circle cx="292.4" cy="224.0" r="2.0" fill="#8c171b"/>
<circle cx="291.5" cy="236.2" r="2.0" fill="#8c171b"/>
<circle cx="300.3" cy="210.0" r="2.0" fill="#8c171b"/>
<circle cx="333.1" cy="6.2" r="2.0" fill="#8c171b"/>
<circle cx="276.8" cy="177.9" r="2.0" fill="#8c171b"/>
<circle cx="280.7" cy="185.5" r="2.0" fill="#8c171b"/>
<circle cx="278.7" cy="180.7" r="2.0" fill="#8c171b"/>
<circle cx="274.9" cy="187.5" r="2.0" fill="#8c171b"/>
<circle cx="277.8" cy="189.4" r="2.0" fill="#8c171b"/>
<circle cx="275.9" cy="192.2" r="2.0" fill="#8c171b"/>
<circle cx="273.0" cy="176.9" r="2.0" fill="#8c171b"/>
<circle cx="282.6" cy="176.9" r="2.0" fill="#8c171b"/>
<circle cx="284.5" cy="178.8" r="2.0" fill="#8c171b"/>
<circle cx="282.0" cy="172.0" r="2.0" fill="#8c171b"/>
<circle cx="285.0" cy="168.0" r="2.0" fill="#8c171b"/>
<circle cx="283.5" cy="188.0" r="2.0" fill="#8c171b"/>
<circle cx="281.5" cy="194.0" r="2.0" fill="#8c171b"/>
<circle cx="286.5" cy="183.0" r="2.0" fill="#8c171b"/>
<circle cx="287.5" cy="176.0" r="2.0" fill="#8c171b"/>
<circle cx="311.9" cy="141.0" r="2.0" fill="#8c171b"/>
<circle cx="310.5" cy="144.0" r="2.0" fill="#8c171b"/>
<circle cx="308.7" cy="147.5" r="2.0" fill="#8c171b"/>
<circle cx="307.0" cy="150.5" r="2.0" fill="#8c171b"/>
<circle cx="305.2" cy="152.9" r="2.0" fill="#8c171b"/>
<circle cx="303.5" cy="157.0" r="2.0" fill="#8c171b"/>
<circle cx="302.3" cy="160.1" r="2.0" fill="#8c171b"/>
<circle cx="301.0" cy="163.0" r="2.0" fill="#8c171b"/>
<circle cx="299.4" cy="165.8" r="2.0" fill="#8c171b"/>
<circle cx="298.2" cy="168.5" r="2.0" fill="#8c171b"/>
<circle cx="291.8" cy="158.2" r="2.0" fill="#8c171b"/>
<circle cx="288.9" cy="163.0" r="2.0" fill="#8c171b"/>
<circle cx="288.0" cy="167.8" r="2.0" fill="#8c171b"/>
<circle cx="294.7" cy="147.7" r="2.0" fill="#8c171b"/>
<circle cx="233.3" cy="126.9" r="2.0" fill="#8c171b"/>
<circle cx="276.2" cy="158.8" r="2.0" fill="#8c171b"/>
<circle cx="283.4" cy="164.4" r="2.0" fill="#8c171b"/>
<circle cx="281.1" cy="163.8" r="2.0" fill="#8c171b"/>
<circle cx="287.8" cy="141.2" r="2.0" fill="#8c171b"/>
<circle cx="269.7" cy="144.9" r="2.0" fill="#8c171b"/>
<circle cx="272.8" cy="154.1" r="2.0" fill="#8c171b"/>
<circle cx="261.7" cy="163.7" r="2.0" fill="#8c171b"/>
<circle cx="282.2" cy="142.5" r="2.0" fill="#8c171b"/>
<circle cx="283.5" cy="141.9" r="2.0" fill="#8c171b"/>
<circle cx="275.9" cy="141.5" r="2.0" fill="#8c171b"/>
<circle cx="258.8" cy="144.0" r="2.0" fill="#8c171b"/>
<circle cx="262.2" cy="164.9" r="2.0" fill="#8c171b"/>
<circle cx="272.6" cy="157.0" r="2.0" fill="#8c171b"/>
<circle cx="258.6" cy="164.3" r="2.0" fill="#8c171b"/>
<circle cx="279.0" cy="165.1" r="2.0" fill="#8c171b"/>
<circle cx="287.5" cy="146.4" r="2.0" fill="#8c171b"/>
<circle cx="265.2" cy="142.6" r="2.0" fill="#8c171b"/>
<circle cx="256.1" cy="139.8" r="2.0" fill="#8c171b"/>
<circle cx="262.7" cy="154.9" r="2.0" fill="#8c171b"/>
<circle cx="264.2" cy="146.7" r="2.0" fill="#8c171b"/>
<circle cx="284.4" cy="151.5" r="2.0" fill="#8c171b"/>
<circle cx="263.3" cy="151.5" r="2.0" fill="#8c171b"/>
<circle cx="279.6" cy="139.6" r="2.0" fill="#8c171b"/>
<circle cx="291.0" cy="138.6" r="2.0" fill="#8c171b"/>
<circle cx="281.5" cy="161.7" r="2.0" fill="#8c171b"/>
<circle cx="265.4" cy="154.2" r="2.0" fill="#8c171b"/>
<circle cx="257.6" cy="164.7" r="2.0" fill="#8c171b"/>
<circle cx="258.3" cy="159.2" r="2.0" fill="#8c171b"/>
<circle cx="264.5" cy="147.9" r="2.0" fill="#8c171b"/>
<circle cx="272.0" cy="159.7" r="2.0" fill="#8c171b"/>
<circle cx="254.5" cy="159.0" r="2.0" fill="#8c171b"/>
<circle cx="283.5" cy="162.1" r="2.0" fill="#8c171b"/>
<circle cx="251.5" cy="164.5" r="2.0" fill="#8c171b"/>
<circle cx="253.8" cy="147.5" r="2.0" fill="#8c171b"/>
<circle cx="275.7" cy="163.7" r="2.0" fill="#8c171b"/>
<circle cx="264.3" cy="163.9" r="2.0" fill="#8c171b"/>
<circle cx="272.9" cy="146.7" r="2.0" fill="#8c171b"/>
<circle cx="263.3" cy="143.0" r="2.0" fill="#8c171b"/>
<circle cx="278.9" cy="165.9" r="2.0" fill="#8c171b"/>
<circle cx="256.8" cy="139.4" r="2.0" fill="#8c171b"/>
<circle cx="267.0" cy="144.6" r="2.0" fill="#8c171b"/>
<circle cx="274.9" cy="161.1" r="2.0" fill="#8c171b"/>
<circle cx="269.1" cy="149.8" r="2.0" fill="#8c171b"/>
<circle cx="252.3" cy="163.6" r="2.0" fill="#8c171b"/>
<circle cx="285.2" cy="141.7" r="2.0" fill="#8c171b"/>
<circle cx="278.9" cy="173.7" r="2.0" fill="#8c171b"/>
<circle cx="274.1" cy="194.4" r="2.0" fill="#8c171b"/>
<circle cx="272.1" cy="179.1" r="2.0" fill="#8c171b"/>
<circle cx="285.5" cy="161.4" r="2.0" fill="#8c171b"/>
<circle cx="280.3" cy="183.9" r="2.0" fill="#8c171b"/>
<circle cx="272.6" cy="173.9" r="2.0" fill="#8c171b"/>
<circle cx="282.6" cy="177.0" r="2.0" fill="#8c171b"/>
<circle cx="282.9" cy="164.6" r="2.0" fill="#8c171b"/>
<circle cx="275.6" cy="162.7" r="2.0" fill="#8c171b"/>
<circle cx="277.8" cy="189.3" r="2.0" fill="#8c171b"/>
<circle cx="273.5" cy="170.2" r="2.0" fill="#8c171b"/>
<circle cx="278.3" cy="161.7" r="2.0" fill="#8c171b"/>
<circle cx="276.0" cy="166.8" r="2.0" fill="#8c171b"/>
<circle cx="276.2" cy="192.0" r="2.0" fill="#8c171b"/>
<circle cx="275.0" cy="195.2" r="2.0" fill="#8c171b"/>
<circle cx="285.2" cy="160.3" r="2.0" fill="#8c171b"/>
<circle cx="277.7" cy="178.7" r="2.0" fill="#8c171b"/>
<circle cx="272.4" cy="175.8" r="2.0" fill="#8c171b"/>
<circle cx="285.6" cy="162.7" r="2.0" fill="#8c171b"/>
<circle cx="281.0" cy="163.1" r="2.0" fill="#8c171b"/>
<circle cx="275.0" cy="158.3" r="2.0" fill="#8c171b"/>
<circle cx="273.3" cy="180.7" r="2.0" fill="#8c171b"/>
<circle cx="212.7" cy="239.1" r="2.0" fill="#8c171b"/>
<circle cx="211.3" cy="227.8" r="2.0" fill="#8c171b"/>
<circle cx="210.6" cy="227.6" r="2.0" fill="#8c171b"/>
<circle cx="221.2" cy="225.3" r="2.0" fill="#8c171b"/>
<circle cx="217.6" cy="227.3" r="2.0" fill="#8c171b"/>
<circle cx="213.3" cy="232.8" r="2.0" fill="#8c171b"/>
<circle cx="209.5" cy="246.5" r="2.0" fill="#8c171b"/>
<circle cx="213.6" cy="247.1" r="2.0" fill="#8c171b"/>
<circle cx="216.7" cy="246.8" r="2.0" fill="#8c171b"/>
<circle cx="220.6" cy="246.7" r="2.0" fill="#8c171b"/>
<circle cx="223.3" cy="245.7" r="2.0" fill="#8c171b"/>
<circle cx="226.6" cy="246.8" r="2.0" fill="#8c171b"/>
<circle cx="229.6" cy="246.5" r="2.0" fill="#8c171b"/>
<circle cx="232.7" cy="247.0" r="2.0" fill="#8c171b"/>
<circle cx="237.1" cy="246.3" r="2.0" fill="#8c171b"/>
<circle cx="241.6" cy="245.8" r="2.0" fill="#8c171b"/>
<circle cx="245.7" cy="247.0" r="2.0" fill="#8c171b"/>
<circle cx="248.5" cy="246.8" r="2.0" fill="#8c171b"/>
<circle cx="252.2" cy="247.1" r="2.0" fill="#8c171b"/>
<circle cx="80.5" cy="51.8" r="2.0" fill="#000"/>
<circle cx="73.2" cy="93.7" r="2.0" fill="#000"/>
<circle cx="73.2" cy="131.7" r="2.0" fill="#000"/>
<circle cx="85.8" cy="127.2" r="2.0" fill="#000"/>
<circle cx="85.8" cy="131.4" r="2.0" fill="#000"/>
<circle cx="82.3" cy="151.1" r="2.0" fill="#000"/>
<circle cx="87.4" cy="164.5" r="2.0" fill="#000"/>
<circle cx="90.4" cy="171.2" r="2.0" fill="#000"/>
<circle cx="115.6" cy="146.7" r="2.0" fill="#000"/>
<circle cx="123.6" cy="160.0" r="2.0" fill="#000"/>
<circle cx="130.5" cy="159.2" r="2.0" fill="#000"/>
<circle cx="120.2" cy="163.8" r="2.0" fill="#000"/>
<circle cx="126.1" cy="174.1" r="2.0" fill="#000"/>
<circle cx="120.6" cy="178.7" r="2.0" fill="#000"/>
<circle cx="132.8" cy="178.0" r="2.0" fill="#000"/>
<circle cx="131.2" cy="181.9" r="2.0" fill="#000"/>
<circle cx="145.1" cy="184.4" r="2.0" fill="#000"/>
<circle cx="145.9" cy="192.4" r="2.0" fill="#000"/>
<circle cx="105.6" cy="179.9" r="2.0" fill="#000"/>
<circle cx="101.3" cy="194.1" r="2.0" fill="#000"/>
<circle cx="114.7" cy="196.6" r="2.0" fill="#000"/>
<circle cx="105.6" cy="202.6" r="2.0" fill="#000"/>
<circle cx="108.2" cy="203.8" r="2.0" fill="#000"/>
<circle cx="117.5" cy="205.3" r="2.0" fill="#000"/>
<circle cx="120.1" cy="205.0" r="2.0" fill="#000"/>
<circle cx="114.7" cy="219.0" r="2.0" fill="#000"/>
<circle cx="118.3" cy="224.8" r="2.0" fill="#000"/>
<circle cx="120.8" cy="224.8" r="2.0" fill="#000"/>
<circle cx="121.6" cy="228.7" r="2.0" fill="#000"/>
<circle cx="135.1" cy="200.5" r="2.0" fill="#000"/>
<circle cx="133.4" cy="203.4" r="2.0" fill="#000"/>
<circle cx="132.5" cy="205.3" r="2.0" fill="#000"/>
<circle cx="131.2" cy="210.1" r="2.0" fill="#000"/>
<circle cx="134.4" cy="216.3" r="2.0" fill="#000"/>
<circle cx="149.5" cy="205.3" r="2.0" fill="#000"/>
<circle cx="150.8" cy="211.0" r="2.0" fill="#000"/>
<circle cx="155.1" cy="217.6" r="2.0" fill="#000"/>
<circle cx="149.0" cy="217.8" r="2.0" fill="#000"/>
<circle cx="140.3" cy="220.4" r="2.0" fill="#000"/>
<circle cx="137.7" cy="223.9" r="2.0" fill="#000"/>
<circle cx="145.0" cy="222.5" r="2.0" fill="#000"/>
<circle cx="150.2" cy="222.2" r="2.0" fill="#000"/>
<circle cx="142.1" cy="227.7" r="2.0" fill="#000"/>
<circle cx="150.8" cy="226.6" r="2.0" fill="#000"/>
<circle cx="152.2" cy="226.6" r="2.0" fill="#000"/>
<circle cx="151.7" cy="230.5" r="2.0" fill="#000"/>
<circle cx="167.5" cy="225.7" r="2.0" fill="#000"/>
<circle cx="173.3" cy="224.4" r="2.0" fill="#000"/>
<circle cx="172.7" cy="235.3" r="2.0" fill="#000"/>
<circle cx="147.6" cy="234.5" r="2.0" fill="#000"/>
<circle cx="138.0" cy="235.6" r="2.0" fill="#000"/>
<circle cx="129.8" cy="237.5" r="2.0" fill="#000"/>
<circle cx="131.1" cy="241.0" r="2.0" fill="#000"/>
<circle cx="135.9" cy="245.4" r="2.0" fill="#000"/>
<circle cx="138.0" cy="241.5" r="2.0" fill="#000"/>
<circle cx="140.3" cy="241.0" r="2.0" fill="#000"/>
<circle cx="142.5" cy="240.8" r="2.0" fill="#000"/>
<circle cx="144.3" cy="241.9" r="2.0" fill="#000"/>
<circle cx="145.6" cy="239.3" r="2.0" fill="#000"/>
<circle cx="146.5" cy="243.6" r="2.0" fill="#000"/>
<circle cx="147.3" cy="241.0" r="2.0" fill="#000"/>
<circle cx="148.6" cy="241.9" r="2.0" fill="#000"/>
<circle cx="150.0" cy="240.1" r="2.0" fill="#000"/>
<circle cx="153.0" cy="237.5" r="2.0" fill="#000"/>
<circle cx="158.3" cy="246.3" r="2.0" fill="#000"/>
<circle cx="158.7" cy="226.6" r="2.0" fill="#000"/>
<circle cx="159.4" cy="228.6" r="2.0" fill="#000"/>
<circle cx="160.0" cy="230.5" r="2.0" fill="#000"/>
<circle cx="160.5" cy="232.3" r="2.0" fill="#000"/>
<circle cx="160.9" cy="234.0" r="2.0" fill="#000"/>
<circle cx="161.6" cy="235.8" r="2.0" fill="#000"/>
<circle cx="162.2" cy="237.5" r="2.0" fill="#000"/>
<circle cx="162.9" cy="238.8" r="2.0" fill="#000"/>
<circle cx="163.5" cy="240.1" r="2.0" fill="#000"/>
<circle cx="164.2" cy="241.5" r="2.0" fill="#000"/>
<circle cx="164.9" cy="242.8" r="2.0" fill="#000"/>
<circle cx="165.6" cy="244.0" r="2.0" fill="#000"/>
<circle cx="166.2" cy="245.0" r="2.0" fill="#000"/>
<circle cx="167.9" cy="243.6" r="2.0" fill="#000"/>
<circle cx="169.7" cy="241.9" r="2.0" fill="#000"/>
<circle cx="171.0" cy="241.0" r="2.0" fill="#000"/>
<circle cx="172.3" cy="243.2" r="2.0" fill="#000"/>
<circle cx="174.0" cy="244.5" r="2.0" fill="#000"/>
<circle cx="175.8" cy="245.0" r="2.0" fill="#000"/>
</g>
<line x1="180.81" y1="6.6" x2="180.81" y2="292.4" stroke="#777" stroke-width="1" stroke-dasharray="2,2"/>
<line x1="207.29" y1="6.6" x2="207.29" y2="292.4" stroke="#777" stroke-width="1" stroke-dasharray="2,2"/>
<line x1="51.5" y1="246.90" x2="337.2" y2="246.90" stroke="#777" stroke-width="1" stroke-dasharray="2,2"/>
<rect x="51.5" y="6.6" width="285.70" height="285.80" fill="none" stroke="#787878" stroke-width="1.2"/>
<line x1="46.20" y1="282.20" x2="51.5" y2="282.20" stroke="#787878" stroke-width="1.2"/>
<text transform="translate(40.20,282.20) rotate(-90) scale(1,1.04)" font-family="Liberation Sans, sans-serif" font-size="16" text-anchor="middle" fill="#111">0</text>
<line x1="46.20" y1="193.95" x2="51.5" y2="193.95" stroke="#787878" stroke-width="1.2"/>
<text transform="translate(40.20,193.95) rotate(-90) scale(1,1.04)" font-family="Liberation Sans, sans-serif" font-size="16" text-anchor="middle" fill="#111">5</text>
<line x1="46.20" y1="105.70" x2="51.5" y2="105.70" stroke="#787878" stroke-width="1.2"/>
<text transform="translate(40.20,105.70) rotate(-90) scale(1,1.04)" font-family="Liberation Sans, sans-serif" font-size="16" text-anchor="middle" fill="#111">10</text>
<line x1="46.20" y1="17.45" x2="51.5" y2="17.45" stroke="#787878" stroke-width="1.2"/>
<text transform="translate(40.20,17.45) rotate(-90) scale(1,1.04)" font-family="Liberation Sans, sans-serif" font-size="16" text-anchor="middle" fill="#111">15</text>
<line x1="61.65" y1="292.4" x2="61.65" y2="297.70" stroke="#787878" stroke-width="1.2"/>
<text transform="translate(61.65,310.2) scale(1,1.04)" font-family="Liberation Sans, sans-serif" font-size="16" text-anchor="middle" fill="#111">−10</text>
<line x1="127.85" y1="292.4" x2="127.85" y2="297.70" stroke="#787878" stroke-width="1.2"/>
<text transform="translate(127.85,310.2) scale(1,1.04)" font-family="Liberation Sans, sans-serif" font-size="16" text-anchor="middle" fill="#111">−5</text>
<line x1="194.05" y1="292.4" x2="194.05" y2="297.70" stroke="#787878" stroke-width="1.2"/>
<text transform="translate(194.05,310.2) scale(1,1.04)" font-family="Liberation Sans, sans-serif" font-size="16" text-anchor="middle" fill="#111">0</text>
<line x1="260.25" y1="292.4" x2="260.25" y2="297.70" stroke="#787878" stroke-width="1.2"/>
<text transform="translate(260.25,310.2) scale(1,1.04)" font-family="Liberation Sans, sans-serif" font-size="16" text-anchor="middle" fill="#111">5</text>
<line x1="326.45" y1="292.4" x2="326.45" y2="297.70" stroke="#787878" stroke-width="1.2"/>
<text transform="translate(326.45,310.2) scale(1,1.04)" font-family="Liberation Sans, sans-serif" font-size="16" text-anchor="middle" fill="#111">10</text>
<text x="194.35" y="328.6" font-family="Liberation Sans, sans-serif" font-size="16" text-anchor="middle" fill="#111">log2(Fold.Change(HCC versus Ctrl))</text>
<text transform="translate(20.60,149.50) rotate(-90)" font-family="Liberation Sans, sans-serif" font-size="16" text-anchor="middle" fill="#111">−log10(P.value)</text>
<rect x="129.5" y="6.6" width="129.75" height="76.60" fill="#fff" stroke="#888" stroke-width="1.1"/>
<circle cx="144.0" cy="25.9" r="3.9" fill="#8c171b"/>
<circle cx="144.0" cy="45.1" r="3.8" fill="#000"/>
<circle cx="144.0" cy="64.3" r="3.4" fill="none" stroke="#c4c4c4" stroke-width="1"/>
<text x="158.0" y="31.8" font-family="Liberation Sans, sans-serif" font-size="16" fill="#111">up in HCC</text>
<text x="158.0" y="50.6" font-family="Liberation Sans, sans-serif" font-size="16" fill="#111">down in HCC</text>
<text x="158.0" y="69.6" font-family="Liberation Sans, sans-serif" font-size="16" fill="#111">non−DE</text>
<text transform="translate(350.3,21.4) scale(1,1.05)" font-family="Liberation Sans, sans-serif" font-size="27" fill="#111">B</text>
<g clip-path="url(#cb)">
<path d="M479.4,247.2 L526.6,247.2 L529.0,253.0 L533.0,262.0 L536.5,271.0 L539.5,278.7 L543.0,274.5 L547.0,269.5 L551.9,264.6 L558.0,256.0 L564.3,247.2 L597.0,247.2 L593.0,254.0 L586.6,262.0 L580.0,266.5 L574.2,270.7 L568.0,273.5 L561.8,275.7 L555.0,278.5 L549.4,280.7 L544.0,282.5 L539.5,283.0 L536.3,282.8 L526.0,279.7 L513.8,275.7 L505.6,270.5 L495.4,263.4 L487.0,256.0 L481.0,249.5 Z" fill="#d2d2d2" stroke="#d2d2d2" stroke-width="1.0" stroke-linejoin="round"/>
<circle cx="490.0" cy="250.0" r="1.9" fill="#f4f4f4" stroke="#c8c8c8" stroke-width="0.8"/>
<circle cx="496.0" cy="252.0" r="1.9" fill="#f4f4f4" stroke="#c8c8c8" stroke-width="0.8"/>
<circle cx="503.0" cy="250.0" r="1.9" fill="#f4f4f4" stroke="#c8c8c8" stroke-width="0.8"/>
<circle cx="510.0" cy="253.0" r="1.9" fill="#f4f4f4" stroke="#c8c8c8" stroke-width="0.8"/>
<circle cx="517.0" cy="251.0" r="1.9" fill="#f4f4f4" stroke="#c8c8c8" stroke-width="0.8"/>
<circle cx="523.0" cy="254.0" r="1.9" fill="#f4f4f4" stroke="#c8c8c8" stroke-width="0.8"/>
<circle cx="493.0" cy="256.0" r="1.9" fill="#f4f4f4" stroke="#c8c8c8" stroke-width="0.8"/>
<circle cx="500.0" cy="258.0" r="1.9" fill="#f4f4f4" stroke="#c8c8c8" stroke-width="0.8"/>
<circle cx="507.0" cy="256.0" r="1.9" fill="#f4f4f4" stroke="#c8c8c8" stroke-width="0.8"/>
<circle cx="514.0" cy="259.0" r="1.9" fill="#f4f4f4" stroke="#c8c8c8" stroke-width="0.8"/>
<circle cx="520.0" cy="257.0" r="1.9" fill="#f4f4f4" stroke="#c8c8c8" stroke-width="0.8"/>
<circle cx="484.0" cy="249.5" r="1.9" fill="#f4f4f4" stroke="#c8c8c8" stroke-width="0.8"/>
<circle cx="509.0" cy="249.5" r="1.9" fill="#f4f4f4" stroke="#c8c8c8" stroke-width="0.8"/>
<circle cx="485.2" cy="259.8" r="1.9" fill="none" stroke="#c6c6c6" stroke-width="0.75"/>
<circle cx="488.3" cy="262.9" r="1.9" fill="none" stroke="#c6c6c6" stroke-width="0.75"/>
<circle cx="486.0" cy="280.8" r="1.9" fill="none" stroke="#c6c6c6" stroke-width="0.75"/>
<circle cx="530.2" cy="259.8" r="1.9" fill="none" stroke="#c6c6c6" stroke-width="0.75"/>
<circle cx="500.0" cy="269.5" r="1.9" fill="none" stroke="#c6c6c6" stroke-width="0.75"/>
<circle cx="505.1" cy="272.1" r="1.9" fill="none" stroke="#c6c6c6" stroke-width="0.75"/>
<circle cx="512.3" cy="275.7" r="1.9" fill="none" stroke="#c6c6c6" stroke-width="0.75"/>
<circle cx="591.9" cy="262.1" r="1.9" fill="none" stroke="#c6c6c6" stroke-width="0.75"/>
<circle cx="584.2" cy="267.2" r="1.9" fill="none" stroke="#c6c6c6" stroke-width="0.75"/>
<circle cx="577.6" cy="269.7" r="1.9" fill="none" stroke="#c6c6c6" stroke-width="0.75"/>
<circle cx="572.5" cy="282.0" r="1.9" fill="none" stroke="#c6c6c6" stroke-width="0.75"/>
<circle cx="476.0" cy="249.0" r="1.9" fill="none" stroke="#c6c6c6" stroke-width="0.75"/>
<circle cx="478.5" cy="252.0" r="1.9" fill="none" stroke="#c6c6c6" stroke-width="0.75"/>
<circle cx="482.0" cy="251.0" r="1.9" fill="none" stroke="#c6c6c6" stroke-width="0.75"/>
<circle cx="598.0" cy="250.0" r="1.9" fill="none" stroke="#c6c6c6" stroke-width="0.75"/>
<circle cx="590.0" cy="260.0" r="1.9" fill="none" stroke="#c6c6c6" stroke-width="0.75"/>
<circle cx="560.0" cy="279.0" r="1.9" fill="none" stroke="#c6c6c6" stroke-width="0.75"/>
<circle cx="567.0" cy="277.0" r="1.9" fill="none" stroke="#c6c6c6" stroke-width="0.75"/>
<circle cx="527.0" cy="250.0" r="1.9" fill="none" stroke="#c6c6c6" stroke-width="0.75"/>
<circle cx="549.0" cy="283.0" r="1.9" fill="none" stroke="#c6c6c6" stroke-width="0.75"/>
<circle cx="520.0" cy="279.5" r="1.9" fill="none" stroke="#c6c6c6" stroke-width="0.75"/>
<circle cx="403.8" cy="96.6" r="2.0" fill="#000"/>
<circle cx="409.3" cy="94.0" r="2.0" fill="#000"/>
<circle cx="417.0" cy="127.6" r="2.0" fill="#000"/>
<circle cx="435.7" cy="127.2" r="2.0" fill="#000"/>
<circle cx="451.0" cy="138.7" r="2.0" fill="#000"/>
<circle cx="440.8" cy="141.6" r="2.0" fill="#000"/>
<circle cx="477.6" cy="136.1" r="2.0" fill="#000"/>
<circle cx="458.1" cy="153.7" r="2.0" fill="#000"/>
<circle cx="429.0" cy="156.2" r="2.0" fill="#000"/>
<circle cx="431.5" cy="162.2" r="2.0" fill="#000"/>
<circle cx="432.2" cy="164.2" r="2.0" fill="#000"/>
<circle cx="433.4" cy="166.3" r="2.0" fill="#000"/>
<circle cx="436.5" cy="173.2" r="2.0" fill="#000"/>
<circle cx="439.9" cy="180.6" r="2.0" fill="#000"/>
<circle cx="442.8" cy="183.3" r="2.0" fill="#000"/>
<circle cx="450.6" cy="179.9" r="2.0" fill="#000"/>
<circle cx="455.6" cy="181.1" r="2.0" fill="#000"/>
<circle cx="462.9" cy="178.0" r="2.0" fill="#000"/>
<circle cx="445.8" cy="189.2" r="2.0" fill="#000"/>
<circle cx="473.1" cy="189.7" r="2.0" fill="#000"/>
<circle cx="475.5" cy="194.0" r="2.0" fill="#000"/>
<circle cx="489.1" cy="192.3" r="2.0" fill="#000"/>
<circle cx="449.7" cy="200.5" r="2.0" fill="#000"/>
<circle cx="451.1" cy="203.4" r="2.0" fill="#000"/>
<circle cx="453.5" cy="204.1" r="2.0" fill="#000"/>
<circle cx="454.4" cy="206.0" r="2.0" fill="#000"/>
<circle cx="460.0" cy="200.5" r="2.0" fill="#000"/>
<circle cx="468.0" cy="207.2" r="2.0" fill="#000"/>
<circle cx="457.7" cy="215.3" r="2.0" fill="#000"/>
<circle cx="459.1" cy="217.8" r="2.0" fill="#000"/>
<circle cx="472.1" cy="218.4" r="2.0" fill="#000"/>
<circle cx="472.1" cy="221.0" r="2.0" fill="#000"/>
<circle cx="486.4" cy="215.6" r="2.0" fill="#000"/>
<circle cx="488.8" cy="225.4" r="2.0" fill="#000"/>
<circle cx="492.8" cy="226.6" r="2.0" fill="#000"/>
<circle cx="467.0" cy="229.4" r="2.0" fill="#000"/>
<circle cx="469.5" cy="230.6" r="2.0" fill="#000"/>
<circle cx="470.4" cy="233.8" r="2.0" fill="#000"/>
<circle cx="472.3" cy="235.7" r="2.0" fill="#000"/>
<circle cx="473.7" cy="237.1" r="2.0" fill="#000"/>
<circle cx="474.4" cy="238.5" r="2.0" fill="#000"/>
<circle cx="476.2" cy="230.6" r="2.0" fill="#000"/>
<circle cx="480.7" cy="231.2" r="2.0" fill="#000"/>
<circle cx="482.1" cy="234.0" r="2.0" fill="#000"/>
<circle cx="483.5" cy="239.5" r="2.0" fill="#000"/>
<circle cx="477.5" cy="241.1" r="2.0" fill="#000"/>
<circle cx="480.0" cy="245.9" r="2.0" fill="#000"/>
<circle cx="490.7" cy="233.8" r="2.0" fill="#000"/>
<circle cx="497.9" cy="234.2" r="2.0" fill="#000"/>
<circle cx="496.9" cy="237.9" r="2.0" fill="#000"/>
<circle cx="510.6" cy="217.0" r="2.0" fill="#000"/>
<circle cx="504.1" cy="230.4" r="2.0" fill="#000"/>
<circle cx="501.8" cy="236.9" r="2.0" fill="#000"/>
<circle cx="504.7" cy="237.6" r="2.0" fill="#000"/>
<circle cx="501.8" cy="246.2" r="2.0" fill="#000"/>
<circle cx="508.7" cy="244.0" r="2.0" fill="#000"/>
<circle cx="512.1" cy="245.5" r="2.0" fill="#000"/>
<circle cx="524.0" cy="244.6" r="2.0" fill="#000"/>
<circle cx="621.5" cy="104.4" r="2.0" fill="#8c171b"/>
<circle cx="635.9" cy="135.0" r="2.0" fill="#8c171b"/>
<circle cx="622.8" cy="138.8" r="2.0" fill="#8c171b"/>
<circle cx="650.7" cy="155.1" r="2.0" fill="#8c171b"/>
<circle cx="639.4" cy="176.7" r="2.0" fill="#8c171b"/>
<circle cx="609.1" cy="177.8" r="2.0" fill="#8c171b"/>
<circle cx="601.0" cy="184.8" r="2.0" fill="#8c171b"/>
<circle cx="615.3" cy="189.8" r="2.0" fill="#8c171b"/>
<circle cx="622.8" cy="188.0" r="2.0" fill="#8c171b"/>
<circle cx="603.8" cy="192.8" r="2.0" fill="#8c171b"/>
<circle cx="604.3" cy="197.9" r="2.0" fill="#8c171b"/>
<circle cx="611.0" cy="199.3" r="2.0" fill="#8c171b"/>
<circle cx="628.5" cy="198.2" r="2.0" fill="#8c171b"/>
<circle cx="597.8" cy="177.2" r="2.0" fill="#8c171b"/>
<circle cx="592.2" cy="185.5" r="2.0" fill="#8c171b"/>
<circle cx="587.7" cy="192.8" r="2.0" fill="#8c171b"/>
<circle cx="586.7" cy="195.1" r="2.0" fill="#8c171b"/>
<circle cx="585.1" cy="198.7" r="2.0" fill="#8c171b"/>
<circle cx="584.4" cy="200.4" r="2.0" fill="#8c171b"/>
<circle cx="592.8" cy="195.1" r="2.0" fill="#8c171b"/>
<circle cx="597.6" cy="193.0" r="2.0" fill="#8c171b"/>
<circle cx="604.6" cy="198.5" r="2.0" fill="#8c171b"/>
<circle cx="611.0" cy="200.4" r="2.0" fill="#8c171b"/>
<circle cx="582.0" cy="204.9" r="2.0" fill="#8c171b"/>
<circle cx="592.5" cy="203.0" r="2.0" fill="#8c171b"/>
<circle cx="593.7" cy="205.4" r="2.0" fill="#8c171b"/>
<circle cx="592.8" cy="208.3" r="2.0" fill="#8c171b"/>
<circle cx="625.3" cy="204.6" r="2.0" fill="#8c171b"/>
<circle cx="624.1" cy="210.7" r="2.0" fill="#8c171b"/>
<circle cx="582.4" cy="212.6" r="2.0" fill="#8c171b"/>
<circle cx="585.8" cy="212.3" r="2.0" fill="#8c171b"/>
<circle cx="595.8" cy="213.5" r="2.0" fill="#8c171b"/>
<circle cx="593.4" cy="216.4" r="2.0" fill="#8c171b"/>
<circle cx="596.3" cy="215.9" r="2.0" fill="#8c171b"/>
<circle cx="594.1" cy="219.3" r="2.0" fill="#8c171b"/>
<circle cx="603.7" cy="215.9" r="2.0" fill="#8c171b"/>
<circle cx="619.3" cy="214.5" r="2.0" fill="#8c171b"/>
<circle cx="620.2" cy="217.4" r="2.0" fill="#8c171b"/>
<circle cx="586.3" cy="225.3" r="2.0" fill="#8c171b"/>
<circle cx="597.9" cy="223.8" r="2.0" fill="#8c171b"/>
<circle cx="601.6" cy="225.0" r="2.0" fill="#8c171b"/>
<circle cx="605.9" cy="222.6" r="2.0" fill="#8c171b"/>
<circle cx="613.5" cy="224.4" r="2.0" fill="#8c171b"/>
<circle cx="572.9" cy="228.9" r="2.0" fill="#8c171b"/>
<circle cx="578.6" cy="228.9" r="2.0" fill="#8c171b"/>
<circle cx="590.1" cy="229.8" r="2.0" fill="#8c171b"/>
<circle cx="603.0" cy="229.3" r="2.0" fill="#8c171b"/>
<circle cx="615.3" cy="190.5" r="2.0" fill="#8c171b"/>
<circle cx="625.1" cy="204.8" r="2.0" fill="#8c171b"/>
<circle cx="623.9" cy="210.6" r="2.0" fill="#8c171b"/>
<circle cx="619.6" cy="214.7" r="2.0" fill="#8c171b"/>
<circle cx="620.1" cy="217.8" r="2.0" fill="#8c171b"/>
<circle cx="603.8" cy="216.0" r="2.0" fill="#8c171b"/>
<circle cx="605.9" cy="222.5" r="2.0" fill="#8c171b"/>
<circle cx="613.9" cy="224.3" r="2.0" fill="#8c171b"/>
<circle cx="601.4" cy="224.9" r="2.0" fill="#8c171b"/>
<circle cx="602.9" cy="229.7" r="2.0" fill="#8c171b"/>
<circle cx="601.4" cy="232.1" r="2.0" fill="#8c171b"/>
<circle cx="610.5" cy="231.1" r="2.0" fill="#8c171b"/>
<circle cx="609.1" cy="233.5" r="2.0" fill="#8c171b"/>
<circle cx="607.2" cy="235.7" r="2.0" fill="#8c171b"/>
<circle cx="604.3" cy="237.8" r="2.0" fill="#8c171b"/>
<circle cx="601.0" cy="243.1" r="2.0" fill="#8c171b"/>
<circle cx="593.5" cy="216.3" r="2.0" fill="#8c171b"/>
<circle cx="594.9" cy="218.9" r="2.0" fill="#8c171b"/>
<circle cx="603.6" cy="216.3" r="2.0" fill="#8c171b"/>
<circle cx="586.1" cy="225.3" r="2.0" fill="#8c171b"/>
<circle cx="601.4" cy="225.1" r="2.0" fill="#8c171b"/>
<circle cx="605.8" cy="222.4" r="2.0" fill="#8c171b"/>
<circle cx="613.2" cy="224.2" r="2.0" fill="#8c171b"/>
<circle cx="562.9" cy="235.1" r="2.0" fill="#8c171b"/>
<circle cx="565.5" cy="238.0" r="2.0" fill="#8c171b"/>
<circle cx="572.5" cy="229.5" r="2.0" fill="#8c171b"/>
<circle cx="573.4" cy="233.0" r="2.0" fill="#8c171b"/>
<circle cx="578.6" cy="229.5" r="2.0" fill="#8c171b"/>
<circle cx="576.0" cy="233.8" r="2.0" fill="#8c171b"/>
<circle cx="569.5" cy="237.8" r="2.0" fill="#8c171b"/>
<circle cx="567.7" cy="242.2" r="2.0" fill="#8c171b"/>
<circle cx="572.1" cy="240.4" r="2.0" fill="#8c171b"/>
<circle cx="573.8" cy="236.9" r="2.0" fill="#8c171b"/>
<circle cx="577.3" cy="238.2" r="2.0" fill="#8c171b"/>
<circle cx="580.0" cy="234.7" r="2.0" fill="#8c171b"/>
<circle cx="581.3" cy="240.4" r="2.0" fill="#8c171b"/>
<circle cx="580.4" cy="243.9" r="2.0" fill="#8c171b"/>
<circle cx="583.9" cy="233.4" r="2.0" fill="#8c171b"/>
<circle cx="585.7" cy="231.2" r="2.0" fill="#8c171b"/>
<circle cx="590.0" cy="230.3" r="2.0" fill="#8c171b"/>
<circle cx="591.8" cy="233.8" r="2.0" fill="#8c171b"/>
<circle cx="590.9" cy="236.9" r="2.0" fill="#8c171b"/>
<circle cx="595.7" cy="232.1" r="2.0" fill="#8c171b"/>
<circle cx="596.2" cy="238.6" r="2.0" fill="#8c171b"/>
<circle cx="601.4" cy="232.1" r="2.0" fill="#8c171b"/>
<circle cx="602.7" cy="229.5" r="2.0" fill="#8c171b"/>
<circle cx="604.0" cy="237.3" r="2.0" fill="#8c171b"/>
<circle cx="606.7" cy="235.6" r="2.0" fill="#8c171b"/>
<circle cx="609.3" cy="233.4" r="2.0" fill="#8c171b"/>
<circle cx="611.1" cy="231.2" r="2.0" fill="#8c171b"/>
<circle cx="570.3" cy="245.2" r="2.0" fill="#8c171b"/>
<circle cx="573.0" cy="243.0" r="2.0" fill="#8c171b"/>
<circle cx="576.0" cy="241.3" r="2.0" fill="#8c171b"/>
<circle cx="578.2" cy="244.8" r="2.0" fill="#8c171b"/>
<circle cx="583.5" cy="245.2" r="2.0" fill="#8c171b"/>
<circle cx="587.0" cy="243.5" r="2.0" fill="#8c171b"/>
<circle cx="589.6" cy="245.2" r="2.0" fill="#8c171b"/>
<circle cx="592.7" cy="244.3" r="2.0" fill="#8c171b"/>
<circle cx="596.2" cy="241.3" r="2.0" fill="#8c171b"/>
<circle cx="598.4" cy="244.3" r="2.0" fill="#8c171b"/>
<circle cx="601.0" cy="243.0" r="2.0" fill="#8c171b"/>
<circle cx="566.4" cy="243.9" r="2.0" fill="#8c171b"/>
<circle cx="572.5" cy="231.2" r="2.0" fill="#8c171b"/>
<circle cx="563.1" cy="235.1" r="2.0" fill="#8c171b"/>
<circle cx="565.5" cy="237.8" r="2.0" fill="#8c171b"/>
<circle cx="570.0" cy="240.0" r="2.0" fill="#8c171b"/>
<circle cx="575.0" cy="236.0" r="2.0" fill="#8c171b"/>
<circle cx="568.0" cy="246.0" r="2.0" fill="#8c171b"/>
<circle cx="586.0" cy="247.0" r="2.0" fill="#8c171b"/>
<circle cx="595.0" cy="246.5" r="2.0" fill="#8c171b"/>
<circle cx="599.5" cy="246.2" r="2.0" fill="#8c171b"/>
<circle cx="569.0" cy="231.0" r="2.0" fill="#8c171b"/>
<circle cx="571.0" cy="235.0" r="2.0" fill="#8c171b"/>
<circle cx="574.5" cy="239.0" r="2.0" fill="#8c171b"/>
<circle cx="577.5" cy="235.0" r="2.0" fill="#8c171b"/>
<circle cx="579.0" cy="231.5" r="2.0" fill="#8c171b"/>
<circle cx="582.5" cy="237.5" r="2.0" fill="#8c171b"/>
<circle cx="584.0" cy="241.5" r="2.0" fill="#8c171b"/>
<circle cx="571.5" cy="244.5" r="2.0" fill="#8c171b"/>
<circle cx="575.0" cy="246.5" r="2.0" fill="#8c171b"/>
<circle cx="581.0" cy="246.5" r="2.0" fill="#8c171b"/>
<circle cx="578.0" cy="241.5" r="2.0" fill="#8c171b"/>
<circle cx="567.0" cy="239.5" r="2.0" fill="#8c171b"/>
<circle cx="564.5" cy="246.5" r="2.0" fill="#8c171b"/>
<circle cx="588.5" cy="239.0" r="2.0" fill="#8c171b"/>
<circle cx="592.0" cy="240.5" r="2.0" fill="#8c171b"/>
<circle cx="586.5" cy="235.5" r="2.0" fill="#8c171b"/>
<circle cx="570.5" cy="227.5" r="2.0" fill="#8c171b"/>
<circle cx="575.0" cy="227.0" r="2.0" fill="#8c171b"/>
<circle cx="581.0" cy="228.5" r="2.0" fill="#8c171b"/>
<circle cx="568.5" cy="234.0" r="2.0" fill="#8c171b"/>
<circle cx="565.5" cy="241.5" r="2.0" fill="#8c171b"/>
</g>
<line x1="526.25" y1="7.5" x2="526.25" y2="292.4" stroke="#777" stroke-width="1" stroke-dasharray="2,2"/>
<line x1="552.66" y1="7.5" x2="552.66" y2="292.4" stroke="#777" stroke-width="1" stroke-dasharray="2,2"/>
<line x1="396.5" y1="247.00" x2="682.3" y2="247.00" stroke="#777" stroke-width="1" stroke-dasharray="2,2"/>
<rect x="396.5" y="7.5" width="285.80" height="284.90" fill="none" stroke="#787878" stroke-width="1.2"/>
<line x1="391.20" y1="282.30" x2="396.5" y2="282.30" stroke="#787878" stroke-width="1.2"/>
<text transform="translate(385.20,282.30) rotate(-90) scale(1,1.04)" font-family="Liberation Sans, sans-serif" font-size="16" text-anchor="middle" fill="#111">0</text>
<line x1="391.20" y1="194.05" x2="396.5" y2="194.05" stroke="#787878" stroke-width="1.2"/>
<text transform="translate(385.20,194.05) rotate(-90) scale(1,1.04)" font-family="Liberation Sans, sans-serif" font-size="16" text-anchor="middle" fill="#111">5</text>
<line x1="391.20" y1="105.80" x2="396.5" y2="105.80" stroke="#787878" stroke-width="1.2"/>
<text transform="translate(385.20,105.80) rotate(-90) scale(1,1.04)" font-family="Liberation Sans, sans-serif" font-size="16" text-anchor="middle" fill="#111">10</text>
<line x1="391.20" y1="17.55" x2="396.5" y2="17.55" stroke="#787878" stroke-width="1.2"/>
<text transform="translate(385.20,17.55) rotate(-90) scale(1,1.04)" font-family="Liberation Sans, sans-serif" font-size="16" text-anchor="middle" fill="#111">15</text>
<line x1="407.40" y1="292.4" x2="407.40" y2="297.70" stroke="#787878" stroke-width="1.2"/>
<text transform="translate(407.40,310.2) scale(1,1.04)" font-family="Liberation Sans, sans-serif" font-size="16" text-anchor="middle" fill="#111">−10</text>
<line x1="473.43" y1="292.4" x2="473.43" y2="297.70" stroke="#787878" stroke-width="1.2"/>
<text transform="translate(473.43,310.2) scale(1,1.04)" font-family="Liberation Sans, sans-serif" font-size="16" text-anchor="middle" fill="#111">−5</text>
<line x1="539.45" y1="292.4" x2="539.45" y2="297.70" stroke="#787878" stroke-width="1.2"/>
<text transform="translate(539.45,310.2) scale(1,1.04)" font-family="Liberation Sans, sans-serif" font-size="16" text-anchor="middle" fill="#111">0</text>
<line x1="605.48" y1="292.4" x2="605.48" y2="297.70" stroke="#787878" stroke-width="1.2"/>
<text transform="translate(605.48,310.2) scale(1,1.04)" font-family="Liberation Sans, sans-serif" font-size="16" text-anchor="middle" fill="#111">5</text>
<line x1="671.50" y1="292.4" x2="671.50" y2="297.70" stroke="#787878" stroke-width="1.2"/>
<text transform="translate(671.50,310.2) scale(1,1.04)" font-family="Liberation Sans, sans-serif" font-size="16" text-anchor="middle" fill="#111">10</text>
<text x="539.40" y="328.6" font-family="Liberation Sans, sans-serif" font-size="16" text-anchor="middle" fill="#111">log2(Fold.Change(AR versus Ctrl))</text>
<text transform="translate(365.60,149.95) rotate(-90)" font-family="Liberation Sans, sans-serif" font-size="16" text-anchor="middle" fill="#111">−log10(P.value)</text>
<rect x="480.8" y="7.5" width="117.50" height="75.80" fill="#fff" stroke="#888" stroke-width="1.1"/>
<circle cx="495.3" cy="25.9" r="3.9" fill="#8c171b"/>
<circle cx="495.3" cy="45.1" r="3.8" fill="#000"/>
<circle cx="495.3" cy="64.3" r="3.4" fill="none" stroke="#c4c4c4" stroke-width="1"/>
<text x="509.3" y="31.8" font-family="Liberation Sans, sans-serif" font-size="16" fill="#111">up in AR</text>
<text x="509.3" y="50.6" font-family="Liberation Sans, sans-serif" font-size="16" fill="#111">down in AR</text>
<text x="509.3" y="69.6" font-family="Liberation Sans, sans-serif" font-size="16" fill="#111">non−DE</text>
<text transform="translate(1.1,373.7) scale(1,1.05)" font-family="Liberation Sans, sans-serif" font-size="27" fill="#111">C</text>
<rect x="62.9" y="357.10" width="246.60" height="13.5" fill="#c7c6c3"/>
<text x="67.60" y="367.60" font-family="Liberation Sans, sans-serif" font-size="16" fill="#111">cell adhesion</text>
<text transform="translate(53.4,369.61) scale(1,1.05)" font-family="Liberation Sans, sans-serif" font-size="16" text-anchor="end" fill="#111">102</text>
<rect x="62.9" y="372.98" width="158.40" height="13.5" fill="#c7c6c3"/>
<text x="67.60" y="383.48" font-family="Liberation Sans, sans-serif" font-size="16" fill="#111">extracellular matrix organization</text>
<text transform="translate(53.4,385.49) scale(1,1.05)" font-family="Liberation Sans, sans-serif" font-size="16" text-anchor="end" fill="#111">34</text>
<rect x="62.9" y="388.86" width="132.60" height="13.5" fill="#c7c6c3"/>
<text x="67.60" y="399.36" font-family="Liberation Sans, sans-serif" font-size="16" fill="#111">cell motion</text>
<text transform="translate(53.4,401.37) scale(1,1.05)" font-family="Liberation Sans, sans-serif" font-size="16" text-anchor="end" fill="#111">76</text>
<rect x="62.9" y="404.74" width="120.20" height="13.5" fill="#c7c6c3"/>
<text x="67.60" y="415.24" font-family="Liberation Sans, sans-serif" font-size="16" fill="#111">cell projection organization</text>
<text transform="translate(53.4,417.25) scale(1,1.05)" font-family="Liberation Sans, sans-serif" font-size="16" text-anchor="end" fill="#111">67</text>
<rect x="62.9" y="420.62" width="118.90" height="13.5" fill="#c7c6c3"/>
<text x="67.60" y="431.12" font-family="Liberation Sans, sans-serif" font-size="16" fill="#111">actin cytoskeleton organization</text>
<text transform="translate(53.4,433.13) scale(1,1.05)" font-family="Liberation Sans, sans-serif" font-size="16" text-anchor="end" fill="#111">43</text>
<rect x="62.9" y="436.50" width="118.20" height="13.5" fill="#c7c6c3"/>
<text x="67.60" y="447.00" font-family="Liberation Sans, sans-serif" font-size="16" fill="#111">regulation of cell growth</text>
<text transform="translate(53.4,449.01) scale(1,1.05)" font-family="Liberation Sans, sans-serif" font-size="16" text-anchor="end" fill="#111">42</text>
<rect x="62.9" y="452.38" width="113.60" height="13.5" fill="#c7c6c3"/>
<text x="67.60" y="462.88" font-family="Liberation Sans, sans-serif" font-size="16" fill="#111">wound healing</text>
<text transform="translate(53.4,464.89) scale(1,1.05)" font-family="Liberation Sans, sans-serif" font-size="16" text-anchor="end" fill="#111">42</text>
<rect x="62.9" y="468.26" width="112.70" height="13.5" fill="#c7c6c3"/>
<text x="67.60" y="478.76" font-family="Liberation Sans, sans-serif" font-size="16" fill="#111">regulation of cell proliferation</text>
<text transform="translate(53.4,480.77) scale(1,1.05)" font-family="Liberation Sans, sans-serif" font-size="16" text-anchor="end" fill="#111">99</text>
<rect x="62.9" y="484.14" width="101.50" height="13.5" fill="#c7c6c3"/>
<text x="67.60" y="494.64" font-family="Liberation Sans, sans-serif" font-size="16" fill="#111">response to organic substance</text>
<text transform="translate(53.4,496.65) scale(1,1.05)" font-family="Liberation Sans, sans-serif" font-size="16" text-anchor="end" fill="#111">122</text>
<rect x="62.9" y="500.02" width="99.60" height="13.5" fill="#c7c6c3"/>
<text x="67.60" y="510.52" font-family="Liberation Sans, sans-serif" font-size="16" fill="#111">vasculature development</text>
<text transform="translate(53.4,512.53) scale(1,1.05)" font-family="Liberation Sans, sans-serif" font-size="16" text-anchor="end" fill="#111">48</text>
<rect x="62.9" y="515.90" width="97.30" height="13.5" fill="#c7c6c3"/>
<text x="67.60" y="526.40" font-family="Liberation Sans, sans-serif" font-size="16" fill="#111">neuron projection development</text>
<text transform="translate(53.4,528.41) scale(1,1.05)" font-family="Liberation Sans, sans-serif" font-size="16" text-anchor="end" fill="#111">52</text>
<rect x="62.9" y="531.78" width="96.10" height="13.5" fill="#c7c6c3"/>
<text x="67.60" y="542.28" font-family="Liberation Sans, sans-serif" font-size="16" fill="#111">cell cycle phase</text>
<text transform="translate(53.4,544.29) scale(1,1.05)" font-family="Liberation Sans, sans-serif" font-size="16" text-anchor="end" fill="#111">47</text>
<rect x="62.9" y="547.66" width="93.90" height="13.5" fill="#c7c6c3"/>
<text x="67.60" y="558.16" font-family="Liberation Sans, sans-serif" font-size="16" fill="#111">blood vessel development</text>
<text transform="translate(53.4,560.17) scale(1,1.05)" font-family="Liberation Sans, sans-serif" font-size="16" text-anchor="end" fill="#111">46</text>
<rect x="62.9" y="563.54" width="90.60" height="13.5" fill="#c7c6c3"/>
<text x="67.60" y="574.04" font-family="Liberation Sans, sans-serif" font-size="16" fill="#111">localization of cell</text>
<text transform="translate(53.4,576.05) scale(1,1.05)" font-family="Liberation Sans, sans-serif" font-size="16" text-anchor="end" fill="#111">57</text>
<line x1="62.9" y1="585.8" x2="328.4" y2="585.8" stroke="#111" stroke-width="1.3"/>
<line x1="62.90" y1="585.8" x2="62.90" y2="591.2" stroke="#111" stroke-width="1.3"/>
<text transform="translate(62.90,602.7) scale(1,1.04)" font-family="Liberation Sans, sans-serif" font-size="16" text-anchor="middle" fill="#111">0</text>
<line x1="116.00" y1="585.8" x2="116.00" y2="591.2" stroke="#111" stroke-width="1.3"/>
<text transform="translate(116.00,602.7) scale(1,1.04)" font-family="Liberation Sans, sans-serif" font-size="16" text-anchor="middle" fill="#111">5</text>
<line x1="169.10" y1="585.8" x2="169.10" y2="591.2" stroke="#111" stroke-width="1.3"/>
<text transform="translate(169.10,602.7) scale(1,1.04)" font-family="Liberation Sans, sans-serif" font-size="16" text-anchor="middle" fill="#111">10</text>
<line x1="222.20" y1="585.8" x2="222.20" y2="591.2" stroke="#111" stroke-width="1.3"/>
<text transform="translate(222.20,602.7) scale(1,1.04)" font-family="Liberation Sans, sans-serif" font-size="16" text-anchor="middle" fill="#111">15</text>
<line x1="275.30" y1="585.8" x2="275.30" y2="591.2" stroke="#111" stroke-width="1.3"/>
<text transform="translate(275.30,602.7) scale(1,1.04)" font-family="Liberation Sans, sans-serif" font-size="16" text-anchor="middle" fill="#111">20</text>
<line x1="328.40" y1="585.8" x2="328.40" y2="591.2" stroke="#111" stroke-width="1.3"/>
<text transform="translate(328.40,602.7) scale(1,1.04)" font-family="Liberation Sans, sans-serif" font-size="16" text-anchor="middle" fill="#111">25</text>
<text x="195.65" y="622.2" font-family="Liberation Sans, sans-serif" font-size="16" text-anchor="middle" fill="#111">−log10(P−value)</text>
<text transform="translate(24.1,467.0) rotate(-90)" font-family="Liberation Sans, sans-serif" font-size="16" text-anchor="middle" fill="#111">Gene Count</text>
<text transform="translate(349.9,374.0) scale(1,1.05)" font-family="Liberation Sans, sans-serif" font-size="27" fill="#111">D</text>
<rect x="410.0" y="427.00" width="175.30" height="14.5" fill="#c7c6c3"/>
<text x="414.70" y="437.50" font-family="Liberation Sans, sans-serif" font-size="16" fill="#111">muscle system process</text>
<text transform="translate(400.8,440.01) scale(1,1.05)" font-family="Liberation Sans, sans-serif" font-size="16" text-anchor="end" fill="#111">17</text>
<rect x="410.0" y="444.27" width="53.40" height="14.5" fill="#c7c6c3"/>
<text x="414.70" y="454.77" font-family="Liberation Sans, sans-serif" font-size="16" fill="#111">response to inorganic substance</text>
<text transform="translate(400.8,457.28) scale(1,1.05)" font-family="Liberation Sans, sans-serif" font-size="16" text-anchor="end" fill="#111">12</text>
<rect x="410.0" y="461.55" width="50.80" height="14.5" fill="#c7c6c3"/>
<text x="414.70" y="472.05" font-family="Liberation Sans, sans-serif" font-size="16" fill="#111">multicellular organismal movement</text>
<text transform="translate(400.8,474.56) scale(1,1.05)" font-family="Liberation Sans, sans-serif" font-size="16" text-anchor="end" fill="#111">5</text>
<rect x="410.0" y="478.82" width="41.80" height="14.5" fill="#c7c6c3"/>
<text x="414.70" y="489.32" font-family="Liberation Sans, sans-serif" font-size="16" fill="#111">response to organic substance</text>
<text transform="translate(400.8,491.83) scale(1,1.05)" font-family="Liberation Sans, sans-serif" font-size="16" text-anchor="end" fill="#111">20</text>
<rect x="410.0" y="496.10" width="40.50" height="14.5" fill="#c7c6c3"/>
<text x="414.70" y="506.60" font-family="Liberation Sans, sans-serif" font-size="16" fill="#111">aging</text>
<text transform="translate(400.8,509.11) scale(1,1.05)" font-family="Liberation Sans, sans-serif" font-size="16" text-anchor="end" fill="#111">8</text>
<rect x="410.0" y="513.38" width="35.80" height="14.5" fill="#c7c6c3"/>
<text x="414.70" y="523.88" font-family="Liberation Sans, sans-serif" font-size="16" fill="#111">muscle organ development</text>
<text transform="translate(400.8,526.38) scale(1,1.05)" font-family="Liberation Sans, sans-serif" font-size="16" text-anchor="end" fill="#111">8</text>
<rect x="410.0" y="530.65" width="34.50" height="14.5" fill="#c7c6c3"/>
<text x="414.70" y="541.15" font-family="Liberation Sans, sans-serif" font-size="16" fill="#111">response to wounding</text>
<text transform="translate(400.8,543.66) scale(1,1.05)" font-family="Liberation Sans, sans-serif" font-size="16" text-anchor="end" fill="#111">12</text>
<rect x="410.0" y="547.92" width="31.80" height="14.5" fill="#c7c6c3"/>
<text x="414.70" y="558.42" font-family="Liberation Sans, sans-serif" font-size="16" fill="#111">regulation of system process</text>
<text transform="translate(400.8,560.93) scale(1,1.05)" font-family="Liberation Sans, sans-serif" font-size="16" text-anchor="end" fill="#111">10</text>
<rect x="410.0" y="565.20" width="30.70" height="14.5" fill="#c7c6c3"/>
<text x="414.70" y="575.70" font-family="Liberation Sans, sans-serif" font-size="16" fill="#111">negative regulation of proteolysis</text>
<text transform="translate(400.8,578.21) scale(1,1.05)" font-family="Liberation Sans, sans-serif" font-size="16" text-anchor="end" fill="#111">4</text>
<line x1="410.0" y1="585.8" x2="675.0" y2="585.8" stroke="#111" stroke-width="1.3"/>
<line x1="410.00" y1="585.8" x2="410.00" y2="591.2" stroke="#111" stroke-width="1.3"/>
<text transform="translate(410.00,602.7) scale(1,1.04)" font-family="Liberation Sans, sans-serif" font-size="16" text-anchor="middle" fill="#111">0</text>
<line x1="463.00" y1="585.8" x2="463.00" y2="591.2" stroke="#111" stroke-width="1.3"/>
<text transform="translate(463.00,602.7) scale(1,1.04)" font-family="Liberation Sans, sans-serif" font-size="16" text-anchor="middle" fill="#111">5</text>
<line x1="516.00" y1="585.8" x2="516.00" y2="591.2" stroke="#111" stroke-width="1.3"/>
<text transform="translate(516.00,602.7) scale(1,1.04)" font-family="Liberation Sans, sans-serif" font-size="16" text-anchor="middle" fill="#111">10</text>
<line x1="569.00" y1="585.8" x2="569.00" y2="591.2" stroke="#111" stroke-width="1.3"/>
<text transform="translate(569.00,602.7) scale(1,1.04)" font-family="Liberation Sans, sans-serif" font-size="16" text-anchor="middle" fill="#111">15</text>
<line x1="622.00" y1="585.8" x2="622.00" y2="591.2" stroke="#111" stroke-width="1.3"/>
<text transform="translate(622.00,602.7) scale(1,1.04)" font-family="Liberation Sans, sans-serif" font-size="16" text-anchor="middle" fill="#111">20</text>
<line x1="675.00" y1="585.8" x2="675.00" y2="591.2" stroke="#111" stroke-width="1.3"/>
<text transform="translate(675.00,602.7) scale(1,1.04)" font-family="Liberation Sans, sans-serif" font-size="16" text-anchor="middle" fill="#111">25</text>
<text x="542.50" y="621.9" font-family="Liberation Sans, sans-serif" font-size="16" text-anchor="middle" fill="#111">−log10(P−value)</text>
<text transform="translate(370.4,503.5) rotate(-90)" font-family="Liberation Sans, sans-serif" font-size="16" text-anchor="middle" fill="#111">Gene Count</text>
</svg></body></html>
